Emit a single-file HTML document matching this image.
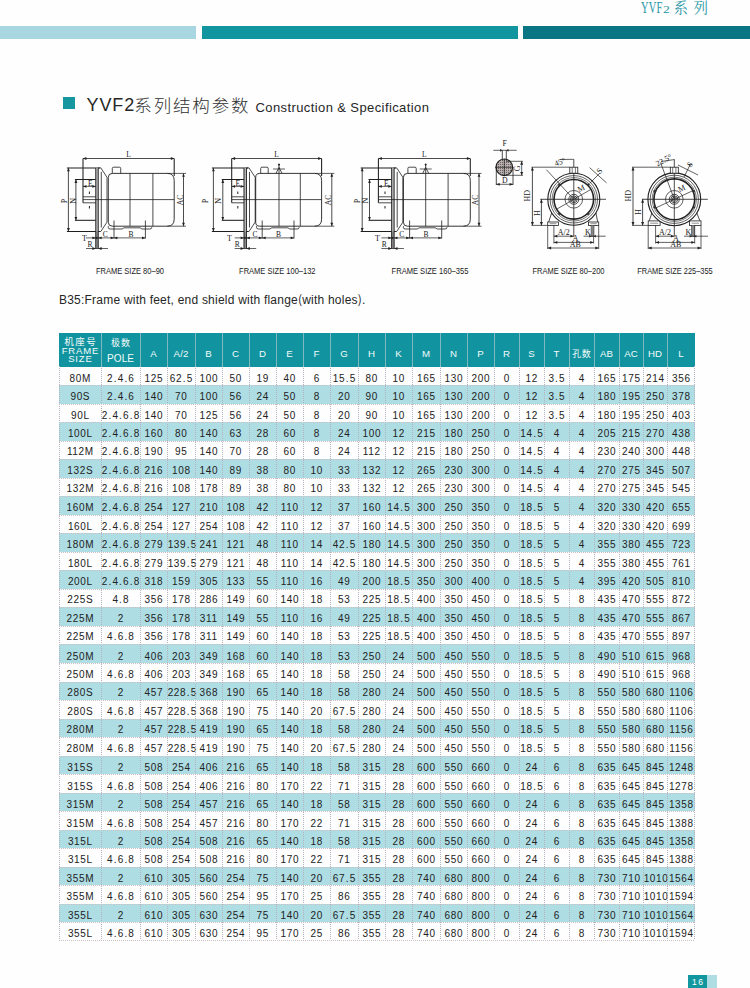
<!DOCTYPE html>
<html><head><meta charset="utf-8"><title>YVF2 Construction &amp; Specification</title>
<style>
*{margin:0;padding:0;box-sizing:border-box}
html,body{width:750px;height:988px;background:#fefefe;overflow:hidden}
body{position:relative;font-family:"Liberation Sans","Noto Sans CJK SC",sans-serif;color:#2b2b2b}
.a{position:absolute}
.bar{position:absolute;top:26px;height:13px}
.tb{position:absolute;left:59px;top:333px;width:636px;height:608px}
.hd{position:absolute;top:0;height:34px;background:#11949f;color:#f4fbfb;font-size:10px;text-align:center}
.rw{position:absolute;left:0;width:636px;background:#fefefe}
.rw.s{background:#aedde4}
.c{position:absolute;top:0;height:100%;padding-top:4px;text-align:center;font-size:10px;letter-spacing:0.65px;text-indent:0.65px;color:#222;white-space:nowrap;display:flex;align-items:center;justify-content:center}
.t i{font-style:normal;margin:0 0.5px}
.t{position:absolute;height:14px;line-height:14px;text-align:center;font-size:10px;letter-spacing:0.65px;text-indent:0.65px;color:#222;white-space:nowrap}
.vl{position:absolute;width:1px;background:repeating-linear-gradient(180deg,#b4b2be 0 1px,rgba(0,0,0,0) 1px 2px)}
.hl{position:absolute;left:0;width:636px;height:1px;background:repeating-linear-gradient(90deg,#ccc0c4 0 1px,rgba(0,0,0,0) 1px 2px)}
.hvl{position:absolute;top:0;width:1px;height:34px;background:#7fb9bf}
</style></head><body>

<div class="bar" style="left:0;width:196px;background:#a9d7e1"></div>
<div class="bar" style="left:202px;width:316px;background:#11959f"></div>
<div class="bar" style="left:523px;width:227px;background:#0b7683"></div>
<div class="a" style="left:641px;top:-1px;height:18px;font-family:'Liberation Serif',serif;color:#2a97a6;font-size:16.5px;line-height:18px;white-space:nowrap;transform:scaleX(0.63);transform-origin:0 0;letter-spacing:0.3px">YVF</div>
<div class="a" style="left:662.8px;top:3.5px;height:12px;font-family:'Liberation Serif',serif;color:#2a97a6;font-size:10.5px;line-height:12px;white-space:nowrap;transform:scaleX(1.3);transform-origin:0 0">2</div>
<div class="a" style="left:673.5px;top:-2px;height:18px;font-family:'Noto Serif CJK SC',serif;color:#2a97a6;font-size:14.5px;line-height:18px;white-space:nowrap;letter-spacing:5.4px">系列</div>
<div class="a" style="left:63px;top:97px;width:12px;height:12px;background:#16979f"></div>
<div class="a" style="left:86.5px;top:94.5px;font-size:18px;line-height:20px;white-space:nowrap;color:#262626;letter-spacing:0.9px">YVF2</div>
<div class="a" style="left:134.3px;top:94.5px;font-size:17.5px;line-height:20px;white-space:nowrap;color:#303030;letter-spacing:1.85px;font-family:'Noto Sans CJK SC',sans-serif;font-weight:300">系列结构参数</div>
<div class="a" style="left:255.5px;top:99.8px;font-size:13px;line-height:16px;white-space:nowrap;color:#262626;letter-spacing:0.4px">Construction &amp; Specification</div>
<div class="a" style="left:59px;top:292px;font-size:12px;line-height:14px;white-space:nowrap;color:#262626;letter-spacing:0.22px">B35:Frame with feet, end shield with flange<span style="font-family:'Noto Sans CJK SC',sans-serif">(</span>with holes<span style="font-family:'Noto Sans CJK SC',sans-serif">)</span>.</div>
<div class="tb">
<div class="hd" style="left:0;width:636px"></div>
<div class="hd" style="left:0px;width:42px;top:2.20px;height:14px;line-height:14px;font-size:9.5px;letter-spacing:1.4px;text-indent:1.4px;background:none;">机座号</div>
<div class="hd" style="left:0px;width:42px;top:10.80px;height:14px;line-height:14px;font-size:9.5px;letter-spacing:0.85px;text-indent:0.85px;background:none;">FRAME</div>
<div class="hd" style="left:0px;width:42px;top:19.20px;height:14px;line-height:14px;font-size:9.5px;letter-spacing:0.85px;text-indent:0.85px;background:none;">SIZE</div>
<div class="hd" style="left:42px;width:39px;top:3.00px;height:14px;line-height:14px;font-size:9px;letter-spacing:0.8px;text-indent:0.8px;background:none;">极数</div>
<div class="hd" style="left:42px;width:39px;top:18.70px;height:14px;line-height:14px;font-size:10px;letter-spacing:0.1px;text-indent:0.1px;background:none;">POLE</div>
<div class="hd" style="left:81px;width:27px;top:14.10px;height:14px;line-height:14px;font-size:9.7px;letter-spacing:0.15px;text-indent:0.15px;background:none;">A</div>
<div class="hd" style="left:108px;width:28px;top:14.10px;height:14px;line-height:14px;font-size:9.7px;letter-spacing:0.15px;text-indent:0.15px;background:none;">A/2</div>
<div class="hd" style="left:136px;width:27px;top:14.10px;height:14px;line-height:14px;font-size:9.7px;letter-spacing:0.15px;text-indent:0.15px;background:none;">B</div>
<div class="hd" style="left:163px;width:27px;top:14.10px;height:14px;line-height:14px;font-size:9.7px;letter-spacing:0.15px;text-indent:0.15px;background:none;">C</div>
<div class="hd" style="left:190px;width:27px;top:14.10px;height:14px;line-height:14px;font-size:9.7px;letter-spacing:0.15px;text-indent:0.15px;background:none;">D</div>
<div class="hd" style="left:217px;width:27px;top:14.10px;height:14px;line-height:14px;font-size:9.7px;letter-spacing:0.15px;text-indent:0.15px;background:none;">E</div>
<div class="hd" style="left:244px;width:27px;top:14.10px;height:14px;line-height:14px;font-size:9.7px;letter-spacing:0.15px;text-indent:0.15px;background:none;">F</div>
<div class="hd" style="left:271px;width:28px;top:14.10px;height:14px;line-height:14px;font-size:9.7px;letter-spacing:0.15px;text-indent:0.15px;background:none;">G</div>
<div class="hd" style="left:299px;width:27px;top:14.10px;height:14px;line-height:14px;font-size:9.7px;letter-spacing:0.15px;text-indent:0.15px;background:none;">H</div>
<div class="hd" style="left:326px;width:27px;top:14.10px;height:14px;line-height:14px;font-size:9.7px;letter-spacing:0.15px;text-indent:0.15px;background:none;">K</div>
<div class="hd" style="left:353px;width:28px;top:14.10px;height:14px;line-height:14px;font-size:9.7px;letter-spacing:0.15px;text-indent:0.15px;background:none;">M</div>
<div class="hd" style="left:381px;width:27px;top:14.10px;height:14px;line-height:14px;font-size:9.7px;letter-spacing:0.15px;text-indent:0.15px;background:none;">N</div>
<div class="hd" style="left:408px;width:27px;top:14.10px;height:14px;line-height:14px;font-size:9.7px;letter-spacing:0.15px;text-indent:0.15px;background:none;">P</div>
<div class="hd" style="left:435px;width:25px;top:14.10px;height:14px;line-height:14px;font-size:9.7px;letter-spacing:0.15px;text-indent:0.15px;background:none;">R</div>
<div class="hd" style="left:460px;width:25px;top:14.10px;height:14px;line-height:14px;font-size:9.7px;letter-spacing:0.15px;text-indent:0.15px;background:none;">S</div>
<div class="hd" style="left:485px;width:25px;top:14.10px;height:14px;line-height:14px;font-size:9.7px;letter-spacing:0.15px;text-indent:0.15px;background:none;">T</div>
<div class="hd" style="left:510px;width:25px;top:13.80px;height:14px;line-height:14px;font-size:9px;letter-spacing:0.7px;text-indent:0.7px;background:none;">孔数</div>
<div class="hd" style="left:535px;width:25px;top:14.10px;height:14px;line-height:14px;font-size:9.7px;letter-spacing:0.15px;text-indent:0.15px;background:none;">AB</div>
<div class="hd" style="left:560px;width:24px;top:14.10px;height:14px;line-height:14px;font-size:9.7px;letter-spacing:0.15px;text-indent:0.15px;background:none;">AC</div>
<div class="hd" style="left:584px;width:24px;top:14.10px;height:14px;line-height:14px;font-size:9.7px;letter-spacing:0.15px;text-indent:0.15px;background:none;">HD</div>
<div class="hd" style="left:608px;width:28px;top:14.10px;height:14px;line-height:14px;font-size:9.7px;letter-spacing:0.15px;text-indent:0.15px;background:none;">L</div>
<div class="hvl" style="left:42px"></div>
<div class="hvl" style="left:81px"></div>
<div class="hvl" style="left:108px"></div>
<div class="hvl" style="left:136px"></div>
<div class="hvl" style="left:163px"></div>
<div class="hvl" style="left:190px"></div>
<div class="hvl" style="left:217px"></div>
<div class="hvl" style="left:244px"></div>
<div class="hvl" style="left:271px"></div>
<div class="hvl" style="left:299px"></div>
<div class="hvl" style="left:326px"></div>
<div class="hvl" style="left:353px"></div>
<div class="hvl" style="left:381px"></div>
<div class="hvl" style="left:408px"></div>
<div class="hvl" style="left:435px"></div>
<div class="hvl" style="left:460px"></div>
<div class="hvl" style="left:485px"></div>
<div class="hvl" style="left:510px"></div>
<div class="hvl" style="left:535px"></div>
<div class="hvl" style="left:560px"></div>
<div class="hvl" style="left:584px"></div>
<div class="hvl" style="left:608px"></div>
<div class="rw" style="top:34px;height:18px">
<div class="t" style="left:0px;width:42px;top:4.60px">80M</div>
<div class="t" style="left:42px;width:39px;top:4.60px">2<i>.</i>4<i>.</i>6</div>
<div class="t" style="left:81px;width:27px;top:4.60px">125</div>
<div class="t" style="left:108px;width:28px;top:4.60px">62<i>.</i>5</div>
<div class="t" style="left:136px;width:27px;top:4.60px">100</div>
<div class="t" style="left:163px;width:27px;top:4.60px">50</div>
<div class="t" style="left:190px;width:27px;top:4.60px">19</div>
<div class="t" style="left:217px;width:27px;top:4.60px">40</div>
<div class="t" style="left:244px;width:27px;top:4.60px">6</div>
<div class="t" style="left:271px;width:28px;top:4.60px">15<i>.</i>5</div>
<div class="t" style="left:299px;width:27px;top:4.60px">80</div>
<div class="t" style="left:326px;width:27px;top:4.60px">10</div>
<div class="t" style="left:353px;width:28px;top:4.60px">165</div>
<div class="t" style="left:381px;width:27px;top:4.60px">130</div>
<div class="t" style="left:408px;width:27px;top:4.60px">200</div>
<div class="t" style="left:435px;width:25px;top:4.60px">0</div>
<div class="t" style="left:460px;width:25px;top:4.60px">12</div>
<div class="t" style="left:485px;width:25px;top:4.60px">3<i>.</i>5</div>
<div class="t" style="left:510px;width:25px;top:4.60px">4</div>
<div class="t" style="left:535px;width:25px;top:4.60px">165</div>
<div class="t" style="left:560px;width:24px;top:4.60px">175</div>
<div class="t" style="left:584px;width:24px;top:4.60px">214</div>
<div class="t" style="left:608px;width:28px;top:4.60px">356</div>
</div>
<div class="rw s" style="top:52px;height:19px">
<div class="t" style="left:0px;width:42px;top:5.30px">90S</div>
<div class="t" style="left:42px;width:39px;top:5.30px">2<i>.</i>4<i>.</i>6</div>
<div class="t" style="left:81px;width:27px;top:5.30px">140</div>
<div class="t" style="left:108px;width:28px;top:5.30px">70</div>
<div class="t" style="left:136px;width:27px;top:5.30px">100</div>
<div class="t" style="left:163px;width:27px;top:5.30px">56</div>
<div class="t" style="left:190px;width:27px;top:5.30px">24</div>
<div class="t" style="left:217px;width:27px;top:5.30px">50</div>
<div class="t" style="left:244px;width:27px;top:5.30px">8</div>
<div class="t" style="left:271px;width:28px;top:5.30px">20</div>
<div class="t" style="left:299px;width:27px;top:5.30px">90</div>
<div class="t" style="left:326px;width:27px;top:5.30px">10</div>
<div class="t" style="left:353px;width:28px;top:5.30px">165</div>
<div class="t" style="left:381px;width:27px;top:5.30px">130</div>
<div class="t" style="left:408px;width:27px;top:5.30px">200</div>
<div class="t" style="left:435px;width:25px;top:5.30px">0</div>
<div class="t" style="left:460px;width:25px;top:5.30px">12</div>
<div class="t" style="left:485px;width:25px;top:5.30px">3<i>.</i>5</div>
<div class="t" style="left:510px;width:25px;top:5.30px">4</div>
<div class="t" style="left:535px;width:25px;top:5.30px">180</div>
<div class="t" style="left:560px;width:24px;top:5.30px">195</div>
<div class="t" style="left:584px;width:24px;top:5.30px">250</div>
<div class="t" style="left:608px;width:28px;top:5.30px">378</div>
</div>
<div class="rw" style="top:71px;height:18px">
<div class="t" style="left:0px;width:42px;top:5.00px">90L</div>
<div class="t" style="left:42px;width:39px;top:5.00px">2<i>.</i>4<i>.</i>6<i>.</i>8</div>
<div class="t" style="left:81px;width:27px;top:5.00px">140</div>
<div class="t" style="left:108px;width:28px;top:5.00px">70</div>
<div class="t" style="left:136px;width:27px;top:5.00px">125</div>
<div class="t" style="left:163px;width:27px;top:5.00px">56</div>
<div class="t" style="left:190px;width:27px;top:5.00px">24</div>
<div class="t" style="left:217px;width:27px;top:5.00px">50</div>
<div class="t" style="left:244px;width:27px;top:5.00px">8</div>
<div class="t" style="left:271px;width:28px;top:5.00px">20</div>
<div class="t" style="left:299px;width:27px;top:5.00px">90</div>
<div class="t" style="left:326px;width:27px;top:5.00px">10</div>
<div class="t" style="left:353px;width:28px;top:5.00px">165</div>
<div class="t" style="left:381px;width:27px;top:5.00px">130</div>
<div class="t" style="left:408px;width:27px;top:5.00px">200</div>
<div class="t" style="left:435px;width:25px;top:5.00px">0</div>
<div class="t" style="left:460px;width:25px;top:5.00px">12</div>
<div class="t" style="left:485px;width:25px;top:5.00px">3<i>.</i>5</div>
<div class="t" style="left:510px;width:25px;top:5.00px">4</div>
<div class="t" style="left:535px;width:25px;top:5.00px">180</div>
<div class="t" style="left:560px;width:24px;top:5.00px">195</div>
<div class="t" style="left:584px;width:24px;top:5.00px">250</div>
<div class="t" style="left:608px;width:28px;top:5.00px">403</div>
</div>
<div class="rw s" style="top:89px;height:19px">
<div class="t" style="left:0px;width:42px;top:5.30px">100L</div>
<div class="t" style="left:42px;width:39px;top:5.30px">2<i>.</i>4<i>.</i>6<i>.</i>8</div>
<div class="t" style="left:81px;width:27px;top:5.30px">160</div>
<div class="t" style="left:108px;width:28px;top:5.30px">80</div>
<div class="t" style="left:136px;width:27px;top:5.30px">140</div>
<div class="t" style="left:163px;width:27px;top:5.30px">63</div>
<div class="t" style="left:190px;width:27px;top:5.30px">28</div>
<div class="t" style="left:217px;width:27px;top:5.30px">60</div>
<div class="t" style="left:244px;width:27px;top:5.30px">8</div>
<div class="t" style="left:271px;width:28px;top:5.30px">24</div>
<div class="t" style="left:299px;width:27px;top:5.30px">100</div>
<div class="t" style="left:326px;width:27px;top:5.30px">12</div>
<div class="t" style="left:353px;width:28px;top:5.30px">215</div>
<div class="t" style="left:381px;width:27px;top:5.30px">180</div>
<div class="t" style="left:408px;width:27px;top:5.30px">250</div>
<div class="t" style="left:435px;width:25px;top:5.30px">0</div>
<div class="t" style="left:460px;width:25px;top:5.30px">14<i>.</i>5</div>
<div class="t" style="left:485px;width:25px;top:5.30px">4</div>
<div class="t" style="left:510px;width:25px;top:5.30px">4</div>
<div class="t" style="left:535px;width:25px;top:5.30px">205</div>
<div class="t" style="left:560px;width:24px;top:5.30px">215</div>
<div class="t" style="left:584px;width:24px;top:5.30px">270</div>
<div class="t" style="left:608px;width:28px;top:5.30px">438</div>
</div>
<div class="rw" style="top:108px;height:18px">
<div class="t" style="left:0px;width:42px;top:4.00px">112M</div>
<div class="t" style="left:42px;width:39px;top:4.00px">2<i>.</i>4<i>.</i>6<i>.</i>8</div>
<div class="t" style="left:81px;width:27px;top:4.00px">190</div>
<div class="t" style="left:108px;width:28px;top:4.00px">95</div>
<div class="t" style="left:136px;width:27px;top:4.00px">140</div>
<div class="t" style="left:163px;width:27px;top:4.00px">70</div>
<div class="t" style="left:190px;width:27px;top:4.00px">28</div>
<div class="t" style="left:217px;width:27px;top:4.00px">60</div>
<div class="t" style="left:244px;width:27px;top:4.00px">8</div>
<div class="t" style="left:271px;width:28px;top:4.00px">24</div>
<div class="t" style="left:299px;width:27px;top:4.00px">112</div>
<div class="t" style="left:326px;width:27px;top:4.00px">12</div>
<div class="t" style="left:353px;width:28px;top:4.00px">215</div>
<div class="t" style="left:381px;width:27px;top:4.00px">180</div>
<div class="t" style="left:408px;width:27px;top:4.00px">250</div>
<div class="t" style="left:435px;width:25px;top:4.00px">0</div>
<div class="t" style="left:460px;width:25px;top:4.00px">14<i>.</i>5</div>
<div class="t" style="left:485px;width:25px;top:4.00px">4</div>
<div class="t" style="left:510px;width:25px;top:4.00px">4</div>
<div class="t" style="left:535px;width:25px;top:4.00px">230</div>
<div class="t" style="left:560px;width:24px;top:4.00px">240</div>
<div class="t" style="left:584px;width:24px;top:4.00px">300</div>
<div class="t" style="left:608px;width:28px;top:4.00px">448</div>
</div>
<div class="rw s" style="top:126px;height:19px">
<div class="t" style="left:0px;width:42px;top:4.60px">132S</div>
<div class="t" style="left:42px;width:39px;top:4.60px">2<i>.</i>4<i>.</i>6<i>.</i>8</div>
<div class="t" style="left:81px;width:27px;top:4.60px">216</div>
<div class="t" style="left:108px;width:28px;top:4.60px">108</div>
<div class="t" style="left:136px;width:27px;top:4.60px">140</div>
<div class="t" style="left:163px;width:27px;top:4.60px">89</div>
<div class="t" style="left:190px;width:27px;top:4.60px">38</div>
<div class="t" style="left:217px;width:27px;top:4.60px">80</div>
<div class="t" style="left:244px;width:27px;top:4.60px">10</div>
<div class="t" style="left:271px;width:28px;top:4.60px">33</div>
<div class="t" style="left:299px;width:27px;top:4.60px">132</div>
<div class="t" style="left:326px;width:27px;top:4.60px">12</div>
<div class="t" style="left:353px;width:28px;top:4.60px">265</div>
<div class="t" style="left:381px;width:27px;top:4.60px">230</div>
<div class="t" style="left:408px;width:27px;top:4.60px">300</div>
<div class="t" style="left:435px;width:25px;top:4.60px">0</div>
<div class="t" style="left:460px;width:25px;top:4.60px">14<i>.</i>5</div>
<div class="t" style="left:485px;width:25px;top:4.60px">4</div>
<div class="t" style="left:510px;width:25px;top:4.60px">4</div>
<div class="t" style="left:535px;width:25px;top:4.60px">270</div>
<div class="t" style="left:560px;width:24px;top:4.60px">275</div>
<div class="t" style="left:584px;width:24px;top:4.60px">345</div>
<div class="t" style="left:608px;width:28px;top:4.60px">507</div>
</div>
<div class="rw" style="top:145px;height:18px">
<div class="t" style="left:0px;width:42px;top:4.30px">132M</div>
<div class="t" style="left:42px;width:39px;top:4.30px">2<i>.</i>4<i>.</i>6<i>.</i>8</div>
<div class="t" style="left:81px;width:27px;top:4.30px">216</div>
<div class="t" style="left:108px;width:28px;top:4.30px">108</div>
<div class="t" style="left:136px;width:27px;top:4.30px">178</div>
<div class="t" style="left:163px;width:27px;top:4.30px">89</div>
<div class="t" style="left:190px;width:27px;top:4.30px">38</div>
<div class="t" style="left:217px;width:27px;top:4.30px">80</div>
<div class="t" style="left:244px;width:27px;top:4.30px">10</div>
<div class="t" style="left:271px;width:28px;top:4.30px">33</div>
<div class="t" style="left:299px;width:27px;top:4.30px">132</div>
<div class="t" style="left:326px;width:27px;top:4.30px">12</div>
<div class="t" style="left:353px;width:28px;top:4.30px">265</div>
<div class="t" style="left:381px;width:27px;top:4.30px">230</div>
<div class="t" style="left:408px;width:27px;top:4.30px">300</div>
<div class="t" style="left:435px;width:25px;top:4.30px">0</div>
<div class="t" style="left:460px;width:25px;top:4.30px">14<i>.</i>5</div>
<div class="t" style="left:485px;width:25px;top:4.30px">4</div>
<div class="t" style="left:510px;width:25px;top:4.30px">4</div>
<div class="t" style="left:535px;width:25px;top:4.30px">270</div>
<div class="t" style="left:560px;width:24px;top:4.30px">275</div>
<div class="t" style="left:584px;width:24px;top:4.30px">345</div>
<div class="t" style="left:608px;width:28px;top:4.30px">545</div>
</div>
<div class="rw s" style="top:163px;height:19px">
<div class="t" style="left:0px;width:42px;top:5.00px">160M</div>
<div class="t" style="left:42px;width:39px;top:5.00px">2<i>.</i>4<i>.</i>6<i>.</i>8</div>
<div class="t" style="left:81px;width:27px;top:5.00px">254</div>
<div class="t" style="left:108px;width:28px;top:5.00px">127</div>
<div class="t" style="left:136px;width:27px;top:5.00px">210</div>
<div class="t" style="left:163px;width:27px;top:5.00px">108</div>
<div class="t" style="left:190px;width:27px;top:5.00px">42</div>
<div class="t" style="left:217px;width:27px;top:5.00px">110</div>
<div class="t" style="left:244px;width:27px;top:5.00px">12</div>
<div class="t" style="left:271px;width:28px;top:5.00px">37</div>
<div class="t" style="left:299px;width:27px;top:5.00px">160</div>
<div class="t" style="left:326px;width:27px;top:5.00px">14<i>.</i>5</div>
<div class="t" style="left:353px;width:28px;top:5.00px">300</div>
<div class="t" style="left:381px;width:27px;top:5.00px">250</div>
<div class="t" style="left:408px;width:27px;top:5.00px">350</div>
<div class="t" style="left:435px;width:25px;top:5.00px">0</div>
<div class="t" style="left:460px;width:25px;top:5.00px">18<i>.</i>5</div>
<div class="t" style="left:485px;width:25px;top:5.00px">5</div>
<div class="t" style="left:510px;width:25px;top:5.00px">4</div>
<div class="t" style="left:535px;width:25px;top:5.00px">320</div>
<div class="t" style="left:560px;width:24px;top:5.00px">330</div>
<div class="t" style="left:584px;width:24px;top:5.00px">420</div>
<div class="t" style="left:608px;width:28px;top:5.00px">655</div>
</div>
<div class="rw" style="top:182px;height:18px">
<div class="t" style="left:0px;width:42px;top:4.70px">160L</div>
<div class="t" style="left:42px;width:39px;top:4.70px">2<i>.</i>4<i>.</i>6<i>.</i>8</div>
<div class="t" style="left:81px;width:27px;top:4.70px">254</div>
<div class="t" style="left:108px;width:28px;top:4.70px">127</div>
<div class="t" style="left:136px;width:27px;top:4.70px">254</div>
<div class="t" style="left:163px;width:27px;top:4.70px">108</div>
<div class="t" style="left:190px;width:27px;top:4.70px">42</div>
<div class="t" style="left:217px;width:27px;top:4.70px">110</div>
<div class="t" style="left:244px;width:27px;top:4.70px">12</div>
<div class="t" style="left:271px;width:28px;top:4.70px">37</div>
<div class="t" style="left:299px;width:27px;top:4.70px">160</div>
<div class="t" style="left:326px;width:27px;top:4.70px">14<i>.</i>5</div>
<div class="t" style="left:353px;width:28px;top:4.70px">300</div>
<div class="t" style="left:381px;width:27px;top:4.70px">250</div>
<div class="t" style="left:408px;width:27px;top:4.70px">350</div>
<div class="t" style="left:435px;width:25px;top:4.70px">0</div>
<div class="t" style="left:460px;width:25px;top:4.70px">18<i>.</i>5</div>
<div class="t" style="left:485px;width:25px;top:4.70px">5</div>
<div class="t" style="left:510px;width:25px;top:4.70px">4</div>
<div class="t" style="left:535px;width:25px;top:4.70px">320</div>
<div class="t" style="left:560px;width:24px;top:4.70px">330</div>
<div class="t" style="left:584px;width:24px;top:4.70px">420</div>
<div class="t" style="left:608px;width:28px;top:4.70px">699</div>
</div>
<div class="rw s" style="top:200px;height:19px">
<div class="t" style="left:0px;width:42px;top:5.00px">180M</div>
<div class="t" style="left:42px;width:39px;top:5.00px">2<i>.</i>4<i>.</i>6<i>.</i>8</div>
<div class="t" style="left:81px;width:27px;top:5.00px">279</div>
<div class="t" style="left:108px;width:28px;top:5.00px">139<i>.</i>5</div>
<div class="t" style="left:136px;width:27px;top:5.00px">241</div>
<div class="t" style="left:163px;width:27px;top:5.00px">121</div>
<div class="t" style="left:190px;width:27px;top:5.00px">48</div>
<div class="t" style="left:217px;width:27px;top:5.00px">110</div>
<div class="t" style="left:244px;width:27px;top:5.00px">14</div>
<div class="t" style="left:271px;width:28px;top:5.00px">42<i>.</i>5</div>
<div class="t" style="left:299px;width:27px;top:5.00px">180</div>
<div class="t" style="left:326px;width:27px;top:5.00px">14<i>.</i>5</div>
<div class="t" style="left:353px;width:28px;top:5.00px">300</div>
<div class="t" style="left:381px;width:27px;top:5.00px">250</div>
<div class="t" style="left:408px;width:27px;top:5.00px">350</div>
<div class="t" style="left:435px;width:25px;top:5.00px">0</div>
<div class="t" style="left:460px;width:25px;top:5.00px">18<i>.</i>5</div>
<div class="t" style="left:485px;width:25px;top:5.00px">5</div>
<div class="t" style="left:510px;width:25px;top:5.00px">4</div>
<div class="t" style="left:535px;width:25px;top:5.00px">355</div>
<div class="t" style="left:560px;width:24px;top:5.00px">380</div>
<div class="t" style="left:584px;width:24px;top:5.00px">455</div>
<div class="t" style="left:608px;width:28px;top:5.00px">723</div>
</div>
<div class="rw" style="top:219px;height:18px">
<div class="t" style="left:0px;width:42px;top:4.60px">180L</div>
<div class="t" style="left:42px;width:39px;top:4.60px">2<i>.</i>4<i>.</i>6<i>.</i>8</div>
<div class="t" style="left:81px;width:27px;top:4.60px">279</div>
<div class="t" style="left:108px;width:28px;top:4.60px">139<i>.</i>5</div>
<div class="t" style="left:136px;width:27px;top:4.60px">279</div>
<div class="t" style="left:163px;width:27px;top:4.60px">121</div>
<div class="t" style="left:190px;width:27px;top:4.60px">48</div>
<div class="t" style="left:217px;width:27px;top:4.60px">110</div>
<div class="t" style="left:244px;width:27px;top:4.60px">14</div>
<div class="t" style="left:271px;width:28px;top:4.60px">42<i>.</i>5</div>
<div class="t" style="left:299px;width:27px;top:4.60px">180</div>
<div class="t" style="left:326px;width:27px;top:4.60px">14<i>.</i>5</div>
<div class="t" style="left:353px;width:28px;top:4.60px">300</div>
<div class="t" style="left:381px;width:27px;top:4.60px">250</div>
<div class="t" style="left:408px;width:27px;top:4.60px">350</div>
<div class="t" style="left:435px;width:25px;top:4.60px">0</div>
<div class="t" style="left:460px;width:25px;top:4.60px">18<i>.</i>5</div>
<div class="t" style="left:485px;width:25px;top:4.60px">5</div>
<div class="t" style="left:510px;width:25px;top:4.60px">4</div>
<div class="t" style="left:535px;width:25px;top:4.60px">355</div>
<div class="t" style="left:560px;width:24px;top:4.60px">380</div>
<div class="t" style="left:584px;width:24px;top:4.60px">455</div>
<div class="t" style="left:608px;width:28px;top:4.60px">761</div>
</div>
<div class="rw s" style="top:237px;height:19px">
<div class="t" style="left:0px;width:42px;top:4.80px">200L</div>
<div class="t" style="left:42px;width:39px;top:4.80px">2<i>.</i>4<i>.</i>6<i>.</i>8</div>
<div class="t" style="left:81px;width:27px;top:4.80px">318</div>
<div class="t" style="left:108px;width:28px;top:4.80px">159</div>
<div class="t" style="left:136px;width:27px;top:4.80px">305</div>
<div class="t" style="left:163px;width:27px;top:4.80px">133</div>
<div class="t" style="left:190px;width:27px;top:4.80px">55</div>
<div class="t" style="left:217px;width:27px;top:4.80px">110</div>
<div class="t" style="left:244px;width:27px;top:4.80px">16</div>
<div class="t" style="left:271px;width:28px;top:4.80px">49</div>
<div class="t" style="left:299px;width:27px;top:4.80px">200</div>
<div class="t" style="left:326px;width:27px;top:4.80px">18<i>.</i>5</div>
<div class="t" style="left:353px;width:28px;top:4.80px">350</div>
<div class="t" style="left:381px;width:27px;top:4.80px">300</div>
<div class="t" style="left:408px;width:27px;top:4.80px">400</div>
<div class="t" style="left:435px;width:25px;top:4.80px">0</div>
<div class="t" style="left:460px;width:25px;top:4.80px">18<i>.</i>5</div>
<div class="t" style="left:485px;width:25px;top:4.80px">5</div>
<div class="t" style="left:510px;width:25px;top:4.80px">4</div>
<div class="t" style="left:535px;width:25px;top:4.80px">395</div>
<div class="t" style="left:560px;width:24px;top:4.80px">420</div>
<div class="t" style="left:584px;width:24px;top:4.80px">505</div>
<div class="t" style="left:608px;width:28px;top:4.80px">810</div>
</div>
<div class="rw" style="top:256px;height:18px">
<div class="t" style="left:0px;width:42px;top:4.30px">225S</div>
<div class="t" style="left:42px;width:39px;top:4.30px">4<i>.</i>8</div>
<div class="t" style="left:81px;width:27px;top:4.30px">356</div>
<div class="t" style="left:108px;width:28px;top:4.30px">178</div>
<div class="t" style="left:136px;width:27px;top:4.30px">286</div>
<div class="t" style="left:163px;width:27px;top:4.30px">149</div>
<div class="t" style="left:190px;width:27px;top:4.30px">60</div>
<div class="t" style="left:217px;width:27px;top:4.30px">140</div>
<div class="t" style="left:244px;width:27px;top:4.30px">18</div>
<div class="t" style="left:271px;width:28px;top:4.30px">53</div>
<div class="t" style="left:299px;width:27px;top:4.30px">225</div>
<div class="t" style="left:326px;width:27px;top:4.30px">18<i>.</i>5</div>
<div class="t" style="left:353px;width:28px;top:4.30px">400</div>
<div class="t" style="left:381px;width:27px;top:4.30px">350</div>
<div class="t" style="left:408px;width:27px;top:4.30px">450</div>
<div class="t" style="left:435px;width:25px;top:4.30px">0</div>
<div class="t" style="left:460px;width:25px;top:4.30px">18<i>.</i>5</div>
<div class="t" style="left:485px;width:25px;top:4.30px">5</div>
<div class="t" style="left:510px;width:25px;top:4.30px">8</div>
<div class="t" style="left:535px;width:25px;top:4.30px">435</div>
<div class="t" style="left:560px;width:24px;top:4.30px">470</div>
<div class="t" style="left:584px;width:24px;top:4.30px">555</div>
<div class="t" style="left:608px;width:28px;top:4.30px">872</div>
</div>
<div class="rw s" style="top:274px;height:19px">
<div class="t" style="left:0px;width:42px;top:4.80px">225M</div>
<div class="t" style="left:42px;width:39px;top:4.80px">2</div>
<div class="t" style="left:81px;width:27px;top:4.80px">356</div>
<div class="t" style="left:108px;width:28px;top:4.80px">178</div>
<div class="t" style="left:136px;width:27px;top:4.80px">311</div>
<div class="t" style="left:163px;width:27px;top:4.80px">149</div>
<div class="t" style="left:190px;width:27px;top:4.80px">55</div>
<div class="t" style="left:217px;width:27px;top:4.80px">110</div>
<div class="t" style="left:244px;width:27px;top:4.80px">16</div>
<div class="t" style="left:271px;width:28px;top:4.80px">49</div>
<div class="t" style="left:299px;width:27px;top:4.80px">225</div>
<div class="t" style="left:326px;width:27px;top:4.80px">18<i>.</i>5</div>
<div class="t" style="left:353px;width:28px;top:4.80px">400</div>
<div class="t" style="left:381px;width:27px;top:4.80px">350</div>
<div class="t" style="left:408px;width:27px;top:4.80px">450</div>
<div class="t" style="left:435px;width:25px;top:4.80px">0</div>
<div class="t" style="left:460px;width:25px;top:4.80px">18<i>.</i>5</div>
<div class="t" style="left:485px;width:25px;top:4.80px">5</div>
<div class="t" style="left:510px;width:25px;top:4.80px">8</div>
<div class="t" style="left:535px;width:25px;top:4.80px">435</div>
<div class="t" style="left:560px;width:24px;top:4.80px">470</div>
<div class="t" style="left:584px;width:24px;top:4.80px">555</div>
<div class="t" style="left:608px;width:28px;top:4.80px">867</div>
</div>
<div class="rw" style="top:293px;height:18px">
<div class="t" style="left:0px;width:42px;top:3.50px">225M</div>
<div class="t" style="left:42px;width:39px;top:3.50px">4<i>.</i>6<i>.</i>8</div>
<div class="t" style="left:81px;width:27px;top:3.50px">356</div>
<div class="t" style="left:108px;width:28px;top:3.50px">178</div>
<div class="t" style="left:136px;width:27px;top:3.50px">311</div>
<div class="t" style="left:163px;width:27px;top:3.50px">149</div>
<div class="t" style="left:190px;width:27px;top:3.50px">60</div>
<div class="t" style="left:217px;width:27px;top:3.50px">140</div>
<div class="t" style="left:244px;width:27px;top:3.50px">18</div>
<div class="t" style="left:271px;width:28px;top:3.50px">53</div>
<div class="t" style="left:299px;width:27px;top:3.50px">225</div>
<div class="t" style="left:326px;width:27px;top:3.50px">18<i>.</i>5</div>
<div class="t" style="left:353px;width:28px;top:3.50px">400</div>
<div class="t" style="left:381px;width:27px;top:3.50px">350</div>
<div class="t" style="left:408px;width:27px;top:3.50px">450</div>
<div class="t" style="left:435px;width:25px;top:3.50px">0</div>
<div class="t" style="left:460px;width:25px;top:3.50px">18<i>.</i>5</div>
<div class="t" style="left:485px;width:25px;top:3.50px">5</div>
<div class="t" style="left:510px;width:25px;top:3.50px">8</div>
<div class="t" style="left:535px;width:25px;top:3.50px">435</div>
<div class="t" style="left:560px;width:24px;top:3.50px">470</div>
<div class="t" style="left:584px;width:24px;top:3.50px">555</div>
<div class="t" style="left:608px;width:28px;top:3.50px">897</div>
</div>
<div class="rw s" style="top:311px;height:19px">
<div class="t" style="left:0px;width:42px;top:6.10px">250M</div>
<div class="t" style="left:42px;width:39px;top:6.10px">2</div>
<div class="t" style="left:81px;width:27px;top:6.10px">406</div>
<div class="t" style="left:108px;width:28px;top:6.10px">203</div>
<div class="t" style="left:136px;width:27px;top:6.10px">349</div>
<div class="t" style="left:163px;width:27px;top:6.10px">168</div>
<div class="t" style="left:190px;width:27px;top:6.10px">60</div>
<div class="t" style="left:217px;width:27px;top:6.10px">140</div>
<div class="t" style="left:244px;width:27px;top:6.10px">18</div>
<div class="t" style="left:271px;width:28px;top:6.10px">53</div>
<div class="t" style="left:299px;width:27px;top:6.10px">250</div>
<div class="t" style="left:326px;width:27px;top:6.10px">24</div>
<div class="t" style="left:353px;width:28px;top:6.10px">500</div>
<div class="t" style="left:381px;width:27px;top:6.10px">450</div>
<div class="t" style="left:408px;width:27px;top:6.10px">550</div>
<div class="t" style="left:435px;width:25px;top:6.10px">0</div>
<div class="t" style="left:460px;width:25px;top:6.10px">18<i>.</i>5</div>
<div class="t" style="left:485px;width:25px;top:6.10px">5</div>
<div class="t" style="left:510px;width:25px;top:6.10px">8</div>
<div class="t" style="left:535px;width:25px;top:6.10px">490</div>
<div class="t" style="left:560px;width:24px;top:6.10px">510</div>
<div class="t" style="left:584px;width:24px;top:6.10px">615</div>
<div class="t" style="left:608px;width:28px;top:6.10px">968</div>
</div>
<div class="rw" style="top:330px;height:19px">
<div class="t" style="left:0px;width:42px;top:4.90px">250M</div>
<div class="t" style="left:42px;width:39px;top:4.90px">4<i>.</i>6<i>.</i>8</div>
<div class="t" style="left:81px;width:27px;top:4.90px">406</div>
<div class="t" style="left:108px;width:28px;top:4.90px">203</div>
<div class="t" style="left:136px;width:27px;top:4.90px">349</div>
<div class="t" style="left:163px;width:27px;top:4.90px">168</div>
<div class="t" style="left:190px;width:27px;top:4.90px">65</div>
<div class="t" style="left:217px;width:27px;top:4.90px">140</div>
<div class="t" style="left:244px;width:27px;top:4.90px">18</div>
<div class="t" style="left:271px;width:28px;top:4.90px">58</div>
<div class="t" style="left:299px;width:27px;top:4.90px">250</div>
<div class="t" style="left:326px;width:27px;top:4.90px">24</div>
<div class="t" style="left:353px;width:28px;top:4.90px">500</div>
<div class="t" style="left:381px;width:27px;top:4.90px">450</div>
<div class="t" style="left:408px;width:27px;top:4.90px">550</div>
<div class="t" style="left:435px;width:25px;top:4.90px">0</div>
<div class="t" style="left:460px;width:25px;top:4.90px">18<i>.</i>5</div>
<div class="t" style="left:485px;width:25px;top:4.90px">5</div>
<div class="t" style="left:510px;width:25px;top:4.90px">8</div>
<div class="t" style="left:535px;width:25px;top:4.90px">490</div>
<div class="t" style="left:560px;width:24px;top:4.90px">510</div>
<div class="t" style="left:584px;width:24px;top:4.90px">615</div>
<div class="t" style="left:608px;width:28px;top:4.90px">968</div>
</div>
<div class="rw s" style="top:349px;height:18px">
<div class="t" style="left:0px;width:42px;top:4.10px">280S</div>
<div class="t" style="left:42px;width:39px;top:4.10px">2</div>
<div class="t" style="left:81px;width:27px;top:4.10px">457</div>
<div class="t" style="left:108px;width:28px;top:4.10px">228<i>.</i>5</div>
<div class="t" style="left:136px;width:27px;top:4.10px">368</div>
<div class="t" style="left:163px;width:27px;top:4.10px">190</div>
<div class="t" style="left:190px;width:27px;top:4.10px">65</div>
<div class="t" style="left:217px;width:27px;top:4.10px">140</div>
<div class="t" style="left:244px;width:27px;top:4.10px">18</div>
<div class="t" style="left:271px;width:28px;top:4.10px">58</div>
<div class="t" style="left:299px;width:27px;top:4.10px">280</div>
<div class="t" style="left:326px;width:27px;top:4.10px">24</div>
<div class="t" style="left:353px;width:28px;top:4.10px">500</div>
<div class="t" style="left:381px;width:27px;top:4.10px">450</div>
<div class="t" style="left:408px;width:27px;top:4.10px">550</div>
<div class="t" style="left:435px;width:25px;top:4.10px">0</div>
<div class="t" style="left:460px;width:25px;top:4.10px">18<i>.</i>5</div>
<div class="t" style="left:485px;width:25px;top:4.10px">5</div>
<div class="t" style="left:510px;width:25px;top:4.10px">8</div>
<div class="t" style="left:535px;width:25px;top:4.10px">550</div>
<div class="t" style="left:560px;width:24px;top:4.10px">580</div>
<div class="t" style="left:584px;width:24px;top:4.10px">680</div>
<div class="t" style="left:608px;width:28px;top:4.10px">1106</div>
</div>
<div class="rw" style="top:367px;height:19px">
<div class="t" style="left:0px;width:42px;top:4.80px">280S</div>
<div class="t" style="left:42px;width:39px;top:4.80px">4<i>.</i>6<i>.</i>8</div>
<div class="t" style="left:81px;width:27px;top:4.80px">457</div>
<div class="t" style="left:108px;width:28px;top:4.80px">228<i>.</i>5</div>
<div class="t" style="left:136px;width:27px;top:4.80px">368</div>
<div class="t" style="left:163px;width:27px;top:4.80px">190</div>
<div class="t" style="left:190px;width:27px;top:4.80px">75</div>
<div class="t" style="left:217px;width:27px;top:4.80px">140</div>
<div class="t" style="left:244px;width:27px;top:4.80px">20</div>
<div class="t" style="left:271px;width:28px;top:4.80px">67<i>.</i>5</div>
<div class="t" style="left:299px;width:27px;top:4.80px">280</div>
<div class="t" style="left:326px;width:27px;top:4.80px">24</div>
<div class="t" style="left:353px;width:28px;top:4.80px">500</div>
<div class="t" style="left:381px;width:27px;top:4.80px">450</div>
<div class="t" style="left:408px;width:27px;top:4.80px">550</div>
<div class="t" style="left:435px;width:25px;top:4.80px">0</div>
<div class="t" style="left:460px;width:25px;top:4.80px">18<i>.</i>5</div>
<div class="t" style="left:485px;width:25px;top:4.80px">5</div>
<div class="t" style="left:510px;width:25px;top:4.80px">8</div>
<div class="t" style="left:535px;width:25px;top:4.80px">550</div>
<div class="t" style="left:560px;width:24px;top:4.80px">580</div>
<div class="t" style="left:584px;width:24px;top:4.80px">680</div>
<div class="t" style="left:608px;width:28px;top:4.80px">1106</div>
</div>
<div class="rw s" style="top:386px;height:18px">
<div class="t" style="left:0px;width:42px;top:4.00px">280M</div>
<div class="t" style="left:42px;width:39px;top:4.00px">2</div>
<div class="t" style="left:81px;width:27px;top:4.00px">457</div>
<div class="t" style="left:108px;width:28px;top:4.00px">228<i>.</i>5</div>
<div class="t" style="left:136px;width:27px;top:4.00px">419</div>
<div class="t" style="left:163px;width:27px;top:4.00px">190</div>
<div class="t" style="left:190px;width:27px;top:4.00px">65</div>
<div class="t" style="left:217px;width:27px;top:4.00px">140</div>
<div class="t" style="left:244px;width:27px;top:4.00px">18</div>
<div class="t" style="left:271px;width:28px;top:4.00px">58</div>
<div class="t" style="left:299px;width:27px;top:4.00px">280</div>
<div class="t" style="left:326px;width:27px;top:4.00px">24</div>
<div class="t" style="left:353px;width:28px;top:4.00px">500</div>
<div class="t" style="left:381px;width:27px;top:4.00px">450</div>
<div class="t" style="left:408px;width:27px;top:4.00px">550</div>
<div class="t" style="left:435px;width:25px;top:4.00px">0</div>
<div class="t" style="left:460px;width:25px;top:4.00px">18<i>.</i>5</div>
<div class="t" style="left:485px;width:25px;top:4.00px">5</div>
<div class="t" style="left:510px;width:25px;top:4.00px">8</div>
<div class="t" style="left:535px;width:25px;top:4.00px">550</div>
<div class="t" style="left:560px;width:24px;top:4.00px">580</div>
<div class="t" style="left:584px;width:24px;top:4.00px">680</div>
<div class="t" style="left:608px;width:28px;top:4.00px">1156</div>
</div>
<div class="rw" style="top:404px;height:19px">
<div class="t" style="left:0px;width:42px;top:5.20px">280M</div>
<div class="t" style="left:42px;width:39px;top:5.20px">4<i>.</i>6<i>.</i>8</div>
<div class="t" style="left:81px;width:27px;top:5.20px">457</div>
<div class="t" style="left:108px;width:28px;top:5.20px">228<i>.</i>5</div>
<div class="t" style="left:136px;width:27px;top:5.20px">419</div>
<div class="t" style="left:163px;width:27px;top:5.20px">190</div>
<div class="t" style="left:190px;width:27px;top:5.20px">75</div>
<div class="t" style="left:217px;width:27px;top:5.20px">140</div>
<div class="t" style="left:244px;width:27px;top:5.20px">20</div>
<div class="t" style="left:271px;width:28px;top:5.20px">67<i>.</i>5</div>
<div class="t" style="left:299px;width:27px;top:5.20px">280</div>
<div class="t" style="left:326px;width:27px;top:5.20px">24</div>
<div class="t" style="left:353px;width:28px;top:5.20px">500</div>
<div class="t" style="left:381px;width:27px;top:5.20px">450</div>
<div class="t" style="left:408px;width:27px;top:5.20px">550</div>
<div class="t" style="left:435px;width:25px;top:5.20px">0</div>
<div class="t" style="left:460px;width:25px;top:5.20px">18<i>.</i>5</div>
<div class="t" style="left:485px;width:25px;top:5.20px">5</div>
<div class="t" style="left:510px;width:25px;top:5.20px">8</div>
<div class="t" style="left:535px;width:25px;top:5.20px">550</div>
<div class="t" style="left:560px;width:24px;top:5.20px">580</div>
<div class="t" style="left:584px;width:24px;top:5.20px">680</div>
<div class="t" style="left:608px;width:28px;top:5.20px">1156</div>
</div>
<div class="rw s" style="top:423px;height:18px">
<div class="t" style="left:0px;width:42px;top:4.90px">315S</div>
<div class="t" style="left:42px;width:39px;top:4.90px">2</div>
<div class="t" style="left:81px;width:27px;top:4.90px">508</div>
<div class="t" style="left:108px;width:28px;top:4.90px">254</div>
<div class="t" style="left:136px;width:27px;top:4.90px">406</div>
<div class="t" style="left:163px;width:27px;top:4.90px">216</div>
<div class="t" style="left:190px;width:27px;top:4.90px">65</div>
<div class="t" style="left:217px;width:27px;top:4.90px">140</div>
<div class="t" style="left:244px;width:27px;top:4.90px">18</div>
<div class="t" style="left:271px;width:28px;top:4.90px">58</div>
<div class="t" style="left:299px;width:27px;top:4.90px">315</div>
<div class="t" style="left:326px;width:27px;top:4.90px">28</div>
<div class="t" style="left:353px;width:28px;top:4.90px">600</div>
<div class="t" style="left:381px;width:27px;top:4.90px">550</div>
<div class="t" style="left:408px;width:27px;top:4.90px">660</div>
<div class="t" style="left:435px;width:25px;top:4.90px">0</div>
<div class="t" style="left:460px;width:25px;top:4.90px">24</div>
<div class="t" style="left:485px;width:25px;top:4.90px">6</div>
<div class="t" style="left:510px;width:25px;top:4.90px">8</div>
<div class="t" style="left:535px;width:25px;top:4.90px">635</div>
<div class="t" style="left:560px;width:24px;top:4.90px">645</div>
<div class="t" style="left:584px;width:24px;top:4.90px">845</div>
<div class="t" style="left:608px;width:28px;top:4.90px">1248</div>
</div>
<div class="rw" style="top:441px;height:19px">
<div class="t" style="left:0px;width:42px;top:5.60px">315S</div>
<div class="t" style="left:42px;width:39px;top:5.60px">4<i>.</i>6<i>.</i>8</div>
<div class="t" style="left:81px;width:27px;top:5.60px">508</div>
<div class="t" style="left:108px;width:28px;top:5.60px">254</div>
<div class="t" style="left:136px;width:27px;top:5.60px">406</div>
<div class="t" style="left:163px;width:27px;top:5.60px">216</div>
<div class="t" style="left:190px;width:27px;top:5.60px">80</div>
<div class="t" style="left:217px;width:27px;top:5.60px">170</div>
<div class="t" style="left:244px;width:27px;top:5.60px">22</div>
<div class="t" style="left:271px;width:28px;top:5.60px">71</div>
<div class="t" style="left:299px;width:27px;top:5.60px">315</div>
<div class="t" style="left:326px;width:27px;top:5.60px">28</div>
<div class="t" style="left:353px;width:28px;top:5.60px">600</div>
<div class="t" style="left:381px;width:27px;top:5.60px">550</div>
<div class="t" style="left:408px;width:27px;top:5.60px">660</div>
<div class="t" style="left:435px;width:25px;top:5.60px">0</div>
<div class="t" style="left:460px;width:25px;top:5.60px">18<i>.</i>5</div>
<div class="t" style="left:485px;width:25px;top:5.60px">6</div>
<div class="t" style="left:510px;width:25px;top:5.60px">8</div>
<div class="t" style="left:535px;width:25px;top:5.60px">635</div>
<div class="t" style="left:560px;width:24px;top:5.60px">645</div>
<div class="t" style="left:584px;width:24px;top:5.60px">845</div>
<div class="t" style="left:608px;width:28px;top:5.60px">1278</div>
</div>
<div class="rw s" style="top:460px;height:18px">
<div class="t" style="left:0px;width:42px;top:5.30px">315M</div>
<div class="t" style="left:42px;width:39px;top:5.30px">2</div>
<div class="t" style="left:81px;width:27px;top:5.30px">508</div>
<div class="t" style="left:108px;width:28px;top:5.30px">254</div>
<div class="t" style="left:136px;width:27px;top:5.30px">457</div>
<div class="t" style="left:163px;width:27px;top:5.30px">216</div>
<div class="t" style="left:190px;width:27px;top:5.30px">65</div>
<div class="t" style="left:217px;width:27px;top:5.30px">140</div>
<div class="t" style="left:244px;width:27px;top:5.30px">18</div>
<div class="t" style="left:271px;width:28px;top:5.30px">58</div>
<div class="t" style="left:299px;width:27px;top:5.30px">315</div>
<div class="t" style="left:326px;width:27px;top:5.30px">28</div>
<div class="t" style="left:353px;width:28px;top:5.30px">600</div>
<div class="t" style="left:381px;width:27px;top:5.30px">550</div>
<div class="t" style="left:408px;width:27px;top:5.30px">660</div>
<div class="t" style="left:435px;width:25px;top:5.30px">0</div>
<div class="t" style="left:460px;width:25px;top:5.30px">24</div>
<div class="t" style="left:485px;width:25px;top:5.30px">6</div>
<div class="t" style="left:510px;width:25px;top:5.30px">8</div>
<div class="t" style="left:535px;width:25px;top:5.30px">635</div>
<div class="t" style="left:560px;width:24px;top:5.30px">645</div>
<div class="t" style="left:584px;width:24px;top:5.30px">845</div>
<div class="t" style="left:608px;width:28px;top:5.30px">1358</div>
</div>
<div class="rw" style="top:478px;height:19px">
<div class="t" style="left:0px;width:42px;top:6.10px">315M</div>
<div class="t" style="left:42px;width:39px;top:6.10px">4<i>.</i>6<i>.</i>8</div>
<div class="t" style="left:81px;width:27px;top:6.10px">508</div>
<div class="t" style="left:108px;width:28px;top:6.10px">254</div>
<div class="t" style="left:136px;width:27px;top:6.10px">457</div>
<div class="t" style="left:163px;width:27px;top:6.10px">216</div>
<div class="t" style="left:190px;width:27px;top:6.10px">80</div>
<div class="t" style="left:217px;width:27px;top:6.10px">170</div>
<div class="t" style="left:244px;width:27px;top:6.10px">22</div>
<div class="t" style="left:271px;width:28px;top:6.10px">71</div>
<div class="t" style="left:299px;width:27px;top:6.10px">315</div>
<div class="t" style="left:326px;width:27px;top:6.10px">28</div>
<div class="t" style="left:353px;width:28px;top:6.10px">600</div>
<div class="t" style="left:381px;width:27px;top:6.10px">550</div>
<div class="t" style="left:408px;width:27px;top:6.10px">660</div>
<div class="t" style="left:435px;width:25px;top:6.10px">0</div>
<div class="t" style="left:460px;width:25px;top:6.10px">24</div>
<div class="t" style="left:485px;width:25px;top:6.10px">6</div>
<div class="t" style="left:510px;width:25px;top:6.10px">8</div>
<div class="t" style="left:535px;width:25px;top:6.10px">635</div>
<div class="t" style="left:560px;width:24px;top:6.10px">645</div>
<div class="t" style="left:584px;width:24px;top:6.10px">845</div>
<div class="t" style="left:608px;width:28px;top:6.10px">1388</div>
</div>
<div class="rw s" style="top:497px;height:18px">
<div class="t" style="left:0px;width:42px;top:5.10px">315L</div>
<div class="t" style="left:42px;width:39px;top:5.10px">2</div>
<div class="t" style="left:81px;width:27px;top:5.10px">508</div>
<div class="t" style="left:108px;width:28px;top:5.10px">254</div>
<div class="t" style="left:136px;width:27px;top:5.10px">508</div>
<div class="t" style="left:163px;width:27px;top:5.10px">216</div>
<div class="t" style="left:190px;width:27px;top:5.10px">65</div>
<div class="t" style="left:217px;width:27px;top:5.10px">140</div>
<div class="t" style="left:244px;width:27px;top:5.10px">18</div>
<div class="t" style="left:271px;width:28px;top:5.10px">58</div>
<div class="t" style="left:299px;width:27px;top:5.10px">315</div>
<div class="t" style="left:326px;width:27px;top:5.10px">28</div>
<div class="t" style="left:353px;width:28px;top:5.10px">600</div>
<div class="t" style="left:381px;width:27px;top:5.10px">550</div>
<div class="t" style="left:408px;width:27px;top:5.10px">660</div>
<div class="t" style="left:435px;width:25px;top:5.10px">0</div>
<div class="t" style="left:460px;width:25px;top:5.10px">24</div>
<div class="t" style="left:485px;width:25px;top:5.10px">6</div>
<div class="t" style="left:510px;width:25px;top:5.10px">8</div>
<div class="t" style="left:535px;width:25px;top:5.10px">635</div>
<div class="t" style="left:560px;width:24px;top:5.10px">645</div>
<div class="t" style="left:584px;width:24px;top:5.10px">845</div>
<div class="t" style="left:608px;width:28px;top:5.10px">1358</div>
</div>
<div class="rw" style="top:515px;height:19px">
<div class="t" style="left:0px;width:42px;top:4.80px">315L</div>
<div class="t" style="left:42px;width:39px;top:4.80px">4<i>.</i>6<i>.</i>8</div>
<div class="t" style="left:81px;width:27px;top:4.80px">508</div>
<div class="t" style="left:108px;width:28px;top:4.80px">254</div>
<div class="t" style="left:136px;width:27px;top:4.80px">508</div>
<div class="t" style="left:163px;width:27px;top:4.80px">216</div>
<div class="t" style="left:190px;width:27px;top:4.80px">80</div>
<div class="t" style="left:217px;width:27px;top:4.80px">170</div>
<div class="t" style="left:244px;width:27px;top:4.80px">22</div>
<div class="t" style="left:271px;width:28px;top:4.80px">71</div>
<div class="t" style="left:299px;width:27px;top:4.80px">315</div>
<div class="t" style="left:326px;width:27px;top:4.80px">28</div>
<div class="t" style="left:353px;width:28px;top:4.80px">600</div>
<div class="t" style="left:381px;width:27px;top:4.80px">550</div>
<div class="t" style="left:408px;width:27px;top:4.80px">660</div>
<div class="t" style="left:435px;width:25px;top:4.80px">0</div>
<div class="t" style="left:460px;width:25px;top:4.80px">24</div>
<div class="t" style="left:485px;width:25px;top:4.80px">6</div>
<div class="t" style="left:510px;width:25px;top:4.80px">8</div>
<div class="t" style="left:535px;width:25px;top:4.80px">635</div>
<div class="t" style="left:560px;width:24px;top:4.80px">645</div>
<div class="t" style="left:584px;width:24px;top:4.80px">845</div>
<div class="t" style="left:608px;width:28px;top:4.80px">1388</div>
</div>
<div class="rw s" style="top:534px;height:18px">
<div class="t" style="left:0px;width:42px;top:4.80px">355M</div>
<div class="t" style="left:42px;width:39px;top:4.80px">2</div>
<div class="t" style="left:81px;width:27px;top:4.80px">610</div>
<div class="t" style="left:108px;width:28px;top:4.80px">305</div>
<div class="t" style="left:136px;width:27px;top:4.80px">560</div>
<div class="t" style="left:163px;width:27px;top:4.80px">254</div>
<div class="t" style="left:190px;width:27px;top:4.80px">75</div>
<div class="t" style="left:217px;width:27px;top:4.80px">140</div>
<div class="t" style="left:244px;width:27px;top:4.80px">20</div>
<div class="t" style="left:271px;width:28px;top:4.80px">67<i>.</i>5</div>
<div class="t" style="left:299px;width:27px;top:4.80px">355</div>
<div class="t" style="left:326px;width:27px;top:4.80px">28</div>
<div class="t" style="left:353px;width:28px;top:4.80px">740</div>
<div class="t" style="left:381px;width:27px;top:4.80px">680</div>
<div class="t" style="left:408px;width:27px;top:4.80px">800</div>
<div class="t" style="left:435px;width:25px;top:4.80px">0</div>
<div class="t" style="left:460px;width:25px;top:4.80px">24</div>
<div class="t" style="left:485px;width:25px;top:4.80px">6</div>
<div class="t" style="left:510px;width:25px;top:4.80px">8</div>
<div class="t" style="left:535px;width:25px;top:4.80px">730</div>
<div class="t" style="left:560px;width:24px;top:4.80px">710</div>
<div class="t" style="left:584px;width:24px;top:4.80px">1010</div>
<div class="t" style="left:608px;width:28px;top:4.80px">1564</div>
</div>
<div class="rw" style="top:552px;height:19px">
<div class="t" style="left:0px;width:42px;top:5.20px">355M</div>
<div class="t" style="left:42px;width:39px;top:5.20px">4<i>.</i>6<i>.</i>8</div>
<div class="t" style="left:81px;width:27px;top:5.20px">610</div>
<div class="t" style="left:108px;width:28px;top:5.20px">305</div>
<div class="t" style="left:136px;width:27px;top:5.20px">560</div>
<div class="t" style="left:163px;width:27px;top:5.20px">254</div>
<div class="t" style="left:190px;width:27px;top:5.20px">95</div>
<div class="t" style="left:217px;width:27px;top:5.20px">170</div>
<div class="t" style="left:244px;width:27px;top:5.20px">25</div>
<div class="t" style="left:271px;width:28px;top:5.20px">86</div>
<div class="t" style="left:299px;width:27px;top:5.20px">355</div>
<div class="t" style="left:326px;width:27px;top:5.20px">28</div>
<div class="t" style="left:353px;width:28px;top:5.20px">740</div>
<div class="t" style="left:381px;width:27px;top:5.20px">680</div>
<div class="t" style="left:408px;width:27px;top:5.20px">800</div>
<div class="t" style="left:435px;width:25px;top:5.20px">0</div>
<div class="t" style="left:460px;width:25px;top:5.20px">24</div>
<div class="t" style="left:485px;width:25px;top:5.20px">6</div>
<div class="t" style="left:510px;width:25px;top:5.20px">8</div>
<div class="t" style="left:535px;width:25px;top:5.20px">730</div>
<div class="t" style="left:560px;width:24px;top:5.20px">710</div>
<div class="t" style="left:584px;width:24px;top:5.20px">1010</div>
<div class="t" style="left:608px;width:28px;top:5.20px">1594</div>
</div>
<div class="rw s" style="top:571px;height:18px">
<div class="t" style="left:0px;width:42px;top:4.50px">355L</div>
<div class="t" style="left:42px;width:39px;top:4.50px">2</div>
<div class="t" style="left:81px;width:27px;top:4.50px">610</div>
<div class="t" style="left:108px;width:28px;top:4.50px">305</div>
<div class="t" style="left:136px;width:27px;top:4.50px">630</div>
<div class="t" style="left:163px;width:27px;top:4.50px">254</div>
<div class="t" style="left:190px;width:27px;top:4.50px">75</div>
<div class="t" style="left:217px;width:27px;top:4.50px">140</div>
<div class="t" style="left:244px;width:27px;top:4.50px">20</div>
<div class="t" style="left:271px;width:28px;top:4.50px">67<i>.</i>5</div>
<div class="t" style="left:299px;width:27px;top:4.50px">355</div>
<div class="t" style="left:326px;width:27px;top:4.50px">28</div>
<div class="t" style="left:353px;width:28px;top:4.50px">740</div>
<div class="t" style="left:381px;width:27px;top:4.50px">680</div>
<div class="t" style="left:408px;width:27px;top:4.50px">800</div>
<div class="t" style="left:435px;width:25px;top:4.50px">0</div>
<div class="t" style="left:460px;width:25px;top:4.50px">24</div>
<div class="t" style="left:485px;width:25px;top:4.50px">6</div>
<div class="t" style="left:510px;width:25px;top:4.50px">8</div>
<div class="t" style="left:535px;width:25px;top:4.50px">730</div>
<div class="t" style="left:560px;width:24px;top:4.50px">710</div>
<div class="t" style="left:584px;width:24px;top:4.50px">1010</div>
<div class="t" style="left:608px;width:28px;top:4.50px">1564</div>
</div>
<div class="rw" style="top:589px;height:19px">
<div class="t" style="left:0px;width:42px;top:4.90px">355L</div>
<div class="t" style="left:42px;width:39px;top:4.90px">4<i>.</i>6<i>.</i>8</div>
<div class="t" style="left:81px;width:27px;top:4.90px">610</div>
<div class="t" style="left:108px;width:28px;top:4.90px">305</div>
<div class="t" style="left:136px;width:27px;top:4.90px">630</div>
<div class="t" style="left:163px;width:27px;top:4.90px">254</div>
<div class="t" style="left:190px;width:27px;top:4.90px">95</div>
<div class="t" style="left:217px;width:27px;top:4.90px">170</div>
<div class="t" style="left:244px;width:27px;top:4.90px">25</div>
<div class="t" style="left:271px;width:28px;top:4.90px">86</div>
<div class="t" style="left:299px;width:27px;top:4.90px">355</div>
<div class="t" style="left:326px;width:27px;top:4.90px">28</div>
<div class="t" style="left:353px;width:28px;top:4.90px">740</div>
<div class="t" style="left:381px;width:27px;top:4.90px">680</div>
<div class="t" style="left:408px;width:27px;top:4.90px">800</div>
<div class="t" style="left:435px;width:25px;top:4.90px">0</div>
<div class="t" style="left:460px;width:25px;top:4.90px">24</div>
<div class="t" style="left:485px;width:25px;top:4.90px">6</div>
<div class="t" style="left:510px;width:25px;top:4.90px">8</div>
<div class="t" style="left:535px;width:25px;top:4.90px">730</div>
<div class="t" style="left:560px;width:24px;top:4.90px">710</div>
<div class="t" style="left:584px;width:24px;top:4.90px">1010</div>
<div class="t" style="left:608px;width:28px;top:4.90px">1594</div>
</div>
<div class="vl" style="left:0px;top:33px;height:574px"></div>
<div class="vl" style="left:42px;top:33px;height:574px"></div>
<div class="vl" style="left:81px;top:33px;height:574px"></div>
<div class="vl" style="left:108px;top:33px;height:574px"></div>
<div class="vl" style="left:136px;top:33px;height:574px"></div>
<div class="vl" style="left:163px;top:33px;height:574px"></div>
<div class="vl" style="left:190px;top:33px;height:574px"></div>
<div class="vl" style="left:217px;top:33px;height:574px"></div>
<div class="vl" style="left:244px;top:33px;height:574px"></div>
<div class="vl" style="left:271px;top:33px;height:574px"></div>
<div class="vl" style="left:299px;top:33px;height:574px"></div>
<div class="vl" style="left:326px;top:33px;height:574px"></div>
<div class="vl" style="left:353px;top:33px;height:574px"></div>
<div class="vl" style="left:381px;top:33px;height:574px"></div>
<div class="vl" style="left:408px;top:33px;height:574px"></div>
<div class="vl" style="left:435px;top:33px;height:574px"></div>
<div class="vl" style="left:460px;top:33px;height:574px"></div>
<div class="vl" style="left:485px;top:33px;height:574px"></div>
<div class="vl" style="left:510px;top:33px;height:574px"></div>
<div class="vl" style="left:535px;top:33px;height:574px"></div>
<div class="vl" style="left:560px;top:33px;height:574px"></div>
<div class="vl" style="left:584px;top:33px;height:574px"></div>
<div class="vl" style="left:608px;top:33px;height:574px"></div>
<div class="vl" style="left:635px;top:33px;height:574px"></div>
<div class="hl" style="top:52px"></div>
<div class="hl" style="top:71px"></div>
<div class="hl" style="top:89px"></div>
<div class="hl" style="top:108px"></div>
<div class="hl" style="top:126px"></div>
<div class="hl" style="top:145px"></div>
<div class="hl" style="top:163px"></div>
<div class="hl" style="top:182px"></div>
<div class="hl" style="top:200px"></div>
<div class="hl" style="top:219px"></div>
<div class="hl" style="top:237px"></div>
<div class="hl" style="top:256px"></div>
<div class="hl" style="top:274px"></div>
<div class="hl" style="top:293px"></div>
<div class="hl" style="top:311px"></div>
<div class="hl" style="top:330px"></div>
<div class="hl" style="top:349px"></div>
<div class="hl" style="top:367px"></div>
<div class="hl" style="top:386px"></div>
<div class="hl" style="top:404px"></div>
<div class="hl" style="top:423px"></div>
<div class="hl" style="top:441px"></div>
<div class="hl" style="top:460px"></div>
<div class="hl" style="top:478px"></div>
<div class="hl" style="top:497px"></div>
<div class="hl" style="top:515px"></div>
<div class="hl" style="top:534px"></div>
<div class="hl" style="top:552px"></div>
<div class="hl" style="top:571px"></div>
<div class="hl" style="top:589px"></div>
<div class="hl" style="top:607px"></div>
</div>
<div class="a" style="left:688px;top:975px;width:19px;height:13px;background:#13979f;color:#fff;font-size:8.5px;line-height:13px;text-align:center;letter-spacing:1.6px;text-indent:1.6px;padding-top:0.5px">16</div>
<div class="a" style="left:707px;top:975px;width:10px;height:13px;background:#aedde4"></div>
<svg class="a" style="left:0;top:0" width="750" height="300" viewBox="0 0 750 300"><defs><pattern id="hatch" width="2" height="2" patternUnits="userSpaceOnUse"><rect width="2" height="2" fill="#b9b0b0"/><rect width="1" height="1" fill="#6a5f5f"/></pattern></defs><line x1="83.0" y1="158.5" x2="174.2" y2="158.5" stroke="#1e1e1e" stroke-width="0.8"/>
<path d="M83.0,158.5 L86.4,157.1 L86.4,159.9Z" fill="#222"/>
<path d="M174.2,158.5 L170.8,159.9 L170.8,157.1Z" fill="#222"/>
<line x1="83.0" y1="158.5" x2="83.0" y2="202.8" stroke="#1e1e1e" stroke-width="1.05"/>
<line x1="174.2" y1="158.5" x2="174.2" y2="176.0" stroke="#1e1e1e" stroke-width="1.05"/>
<text x="128.6" y="156.5" font-family="'Liberation Serif',serif" font-size="7.5" text-anchor="middle" fill="#1a1a1a">L</text>
<line x1="66.9" y1="167.9" x2="99.8" y2="167.9" stroke="#1e1e1e" stroke-width="1.05"/>
<line x1="66.9" y1="231.5" x2="99.8" y2="231.5" stroke="#1e1e1e" stroke-width="1.05"/>
<line x1="68.4" y1="167.9" x2="68.4" y2="231.5" stroke="#1e1e1e" stroke-width="0.8"/>
<path d="M68.4,167.9 L69.9,171.3 L67.0,171.3Z" fill="#222"/>
<path d="M68.4,231.5 L67.0,228.1 L69.9,228.1Z" fill="#222"/>
<text x="66.8" y="201.0" font-family="'Liberation Serif',serif" font-size="8" text-anchor="middle" fill="#1a1a1a" transform="rotate(-90 66.8 201.0)">P</text>
<line x1="74.9" y1="179.5" x2="95.8" y2="179.5" stroke="#1e1e1e" stroke-width="1.05"/>
<line x1="74.9" y1="220.3" x2="95.8" y2="220.3" stroke="#1e1e1e" stroke-width="1.05"/>
<line x1="75.9" y1="179.5" x2="75.9" y2="220.3" stroke="#1e1e1e" stroke-width="0.8"/>
<path d="M75.9,179.5 L77.4,182.9 L74.5,182.9Z" fill="#222"/>
<path d="M75.9,220.3 L74.5,216.9 L77.4,216.9Z" fill="#222"/>
<text x="75.8" y="200.8" font-family="'Liberation Serif',serif" font-size="8.5" text-anchor="middle" fill="#1a1a1a" transform="rotate(-90 75.8 200.8)">N</text>
<rect x="95.8" y="167.9" width="2.4" height="80.6" fill="#c8c8c8"/>
<rect x="95.8" y="231.5" width="2.4" height="17.0" fill="#9a9a9a"/>
<line x1="95.8" y1="167.9" x2="95.8" y2="248.5" stroke="#1e1e1e" stroke-width="1.0"/>
<line x1="98.2" y1="167.9" x2="98.2" y2="248.5" stroke="#1e1e1e" stroke-width="1.0"/>
<path d="M98.2,167.9 L100.8,167.9 L107,177.3 L107,222.1 L100.8,231.5 L98.2,231.5" fill="none" stroke="#1e1e1e" stroke-width="0.8"/>
<line x1="101.3" y1="171.9" x2="101.3" y2="227.5" stroke="#1e1e1e" stroke-width="0.8"/>
<path d="M108.3,177.4 Q108.3,173.4 112.3,173.4 L167.2,173.4 Q174.2,173.4 174.2,180.4 L174.2,219.2 Q174.2,226.2 167.2,226.2 L112.3,226.2 Q108.3,226.2 108.3,222.2 Z" fill="none" stroke="#1e1e1e" stroke-width="0.9"/>
<line x1="167.2" y1="173.4" x2="186.0" y2="173.4" stroke="#1e1e1e" stroke-width="0.7"/>
<line x1="167.2" y1="226.2" x2="186.0" y2="226.2" stroke="#1e1e1e" stroke-width="0.7"/>
<line x1="183.5" y1="173.4" x2="183.5" y2="226.2" stroke="#1e1e1e" stroke-width="0.8"/>
<path d="M183.5,173.4 L184.9,176.8 L182.1,176.8Z" fill="#222"/>
<path d="M183.5,226.2 L182.1,222.8 L184.9,222.8Z" fill="#222"/>
<text x="182.6" y="200.0" font-family="'Liberation Serif',serif" font-size="7.5" text-anchor="middle" fill="#1a1a1a" transform="rotate(-90 182.6 200.0)">AC</text>
<path d="M112.3,173.4 L112.3,168.4 Q112.3,167.20000000000002 113.5,167.20000000000002 L119.5,167.20000000000002 Q120.7,167.20000000000002 120.7,168.4 L120.7,173.4" fill="none" stroke="#1e1e1e" stroke-width="0.8"/>
<line x1="130.0" y1="173.4" x2="130.0" y2="226.2" stroke="#1e1e1e" stroke-width="0.8"/>
<line x1="152.9" y1="173.4" x2="152.9" y2="226.2" stroke="#1e1e1e" stroke-width="0.8"/>
<line x1="83.0" y1="199.6" x2="174.2" y2="199.6" stroke="#1e1e1e" stroke-width="0.8"/>
<line x1="83.0" y1="196.8" x2="95.8" y2="196.8" stroke="#1e1e1e" stroke-width="0.8"/>
<line x1="83.0" y1="202.8" x2="95.8" y2="202.8" stroke="#1e1e1e" stroke-width="0.8"/>
<line x1="83.0" y1="186.4" x2="95.8" y2="186.4" stroke="#1e1e1e" stroke-width="0.7"/>
<path d="M83.0,186.4 L86.4,185.0 L86.4,187.8Z" fill="#222"/>
<path d="M95.8,186.4 L92.4,187.8 L92.4,185.0Z" fill="#222"/>
<text x="90.2" y="185.7" font-family="'Liberation Serif',serif" font-size="7.6" text-anchor="middle" fill="#1a1a1a">E</text>
<line x1="89.4" y1="191.5" x2="89.4" y2="194.0" stroke="#1e1e1e" stroke-width="1.0"/>
<line x1="89.4" y1="206.0" x2="89.4" y2="208.5" stroke="#1e1e1e" stroke-width="1.0"/>
<path d="M108.3,226.2 L108.3,227.7 Q108.3,229.0 110.3,229.0 L122.05000000000001,229.0 L124.05000000000001,227.79999999999998 L140.05,227.79999999999998 L142.05,229.0 L149.8,229.0 Q151.8,229.0 151.8,227.2" fill="none" stroke="#1e1e1e" stroke-width="0.8"/>
<line x1="114.0" y1="220.5" x2="114.0" y2="238.5" stroke="#1e1e1e" stroke-width="0.8"/>
<line x1="145.4" y1="220.5" x2="145.4" y2="238.5" stroke="#1e1e1e" stroke-width="0.8"/>
<line x1="86.0" y1="237.9" x2="145.4" y2="237.9" stroke="#1e1e1e" stroke-width="0.7"/>
<path d="M95.8,237.9 L92.4,239.3 L92.4,236.5Z" fill="#222"/>
<path d="M98.2,237.9 L101.6,236.5 L101.6,239.3Z" fill="#222"/>
<path d="M98.2,237.9 L95.8,239.3 L95.8,236.5Z" fill="#222"/>
<path d="M114.0,237.9 L117.4,236.5 L117.4,239.3Z" fill="#222"/>
<path d="M114.0,237.9 L110.6,239.3 L110.6,236.5Z" fill="#222"/>
<path d="M145.4,237.9 L142.0,239.3 L142.0,236.5Z" fill="#222"/>
<text x="84.5" y="240.5" font-family="'Liberation Serif',serif" font-size="8" text-anchor="middle" fill="#1a1a1a">T</text>
<text x="105.2" y="236.9" font-family="'Liberation Serif',serif" font-size="7.5" text-anchor="middle" fill="#1a1a1a">C</text>
<text x="131.0" y="236.9" font-family="'Liberation Serif',serif" font-size="7.5" text-anchor="middle" fill="#1a1a1a">B</text>
<line x1="86.0" y1="248.5" x2="108.0" y2="248.5" stroke="#1e1e1e" stroke-width="0.7"/>
<path d="M95.8,248.5 L92.4,249.9 L92.4,247.1Z" fill="#222"/>
<path d="M98.2,248.5 L101.6,247.1 L101.6,249.9Z" fill="#222"/>
<text x="90.0" y="246.9" font-family="'Liberation Serif',serif" font-size="7.5" text-anchor="middle" fill="#1a1a1a">R</text>
<text x="130.0" y="273.7" font-family="'Liberation Sans',sans-serif" font-size="8.4" text-anchor="middle" fill="#1a1a1a" fill-opacity="1" textLength="68" lengthAdjust="spacingAndGlyphs">FRAME SIZE 80–90</text>
<line x1="231.7" y1="158.5" x2="321.6" y2="158.5" stroke="#1e1e1e" stroke-width="0.8"/>
<path d="M231.7,158.5 L235.1,157.1 L235.1,159.9Z" fill="#222"/>
<path d="M321.6,158.5 L318.2,159.9 L318.2,157.1Z" fill="#222"/>
<line x1="231.7" y1="158.5" x2="231.7" y2="202.8" stroke="#1e1e1e" stroke-width="1.05"/>
<line x1="321.6" y1="158.5" x2="321.6" y2="176.0" stroke="#1e1e1e" stroke-width="1.05"/>
<text x="276.6" y="156.5" font-family="'Liberation Serif',serif" font-size="7.5" text-anchor="middle" fill="#1a1a1a">L</text>
<line x1="211.9" y1="167.9" x2="248.0" y2="167.9" stroke="#1e1e1e" stroke-width="1.05"/>
<line x1="211.9" y1="231.5" x2="248.0" y2="231.5" stroke="#1e1e1e" stroke-width="1.05"/>
<line x1="213.4" y1="167.9" x2="213.4" y2="231.5" stroke="#1e1e1e" stroke-width="0.8"/>
<path d="M213.4,167.9 L214.8,171.3 L212.0,171.3Z" fill="#222"/>
<path d="M213.4,231.5 L212.0,228.1 L214.8,228.1Z" fill="#222"/>
<text x="208.4" y="201.0" font-family="'Liberation Serif',serif" font-size="8" text-anchor="middle" fill="#1a1a1a" transform="rotate(-90 208.4 201.0)">P</text>
<line x1="221.8" y1="179.5" x2="244.0" y2="179.5" stroke="#1e1e1e" stroke-width="1.05"/>
<line x1="221.8" y1="220.3" x2="244.0" y2="220.3" stroke="#1e1e1e" stroke-width="1.05"/>
<line x1="222.8" y1="179.5" x2="222.8" y2="220.3" stroke="#1e1e1e" stroke-width="0.8"/>
<path d="M222.8,179.5 L224.2,182.9 L221.4,182.9Z" fill="#222"/>
<path d="M222.8,220.3 L221.4,216.9 L224.2,216.9Z" fill="#222"/>
<text x="221.2" y="200.8" font-family="'Liberation Serif',serif" font-size="8.5" text-anchor="middle" fill="#1a1a1a" transform="rotate(-90 221.2 200.8)">N</text>
<rect x="244" y="167.9" width="2.4" height="80.6" fill="#c8c8c8"/>
<rect x="244" y="231.5" width="2.4" height="17.0" fill="#9a9a9a"/>
<line x1="244.0" y1="167.9" x2="244.0" y2="248.5" stroke="#1e1e1e" stroke-width="1.0"/>
<line x1="246.4" y1="167.9" x2="246.4" y2="248.5" stroke="#1e1e1e" stroke-width="1.0"/>
<path d="M246.4,167.9 L249,167.9 L255.2,177.3 L255.2,222.1 L249,231.5 L246.4,231.5" fill="none" stroke="#1e1e1e" stroke-width="0.8"/>
<line x1="249.5" y1="171.9" x2="249.5" y2="227.5" stroke="#1e1e1e" stroke-width="0.8"/>
<path d="M255.7,177.4 Q255.7,173.4 259.7,173.4 L314.6,173.4 Q321.6,173.4 321.6,180.4 L321.6,219.2 Q321.6,226.2 314.6,226.2 L259.7,226.2 Q255.7,226.2 255.7,222.2 Z" fill="none" stroke="#1e1e1e" stroke-width="0.9"/>
<line x1="314.6" y1="173.4" x2="334.3" y2="173.4" stroke="#1e1e1e" stroke-width="0.7"/>
<line x1="314.6" y1="226.2" x2="334.3" y2="226.2" stroke="#1e1e1e" stroke-width="0.7"/>
<line x1="331.8" y1="173.4" x2="331.8" y2="226.2" stroke="#1e1e1e" stroke-width="0.8"/>
<path d="M331.8,173.4 L333.2,176.8 L330.4,176.8Z" fill="#222"/>
<path d="M331.8,226.2 L330.4,222.8 L333.2,222.8Z" fill="#222"/>
<text x="330.9" y="200.0" font-family="'Liberation Serif',serif" font-size="7.5" text-anchor="middle" fill="#1a1a1a" transform="rotate(-90 330.9 200.0)">AC</text>
<path d="M260.7,173.4 L260.7,168.4 Q260.7,167.20000000000002 261.9,167.20000000000002 L267.0,167.20000000000002 Q268.2,167.20000000000002 268.2,168.4 L268.2,173.4" fill="none" stroke="#1e1e1e" stroke-width="0.8"/>
<line x1="279.0" y1="163.4" x2="279.0" y2="226.2" stroke="#1e1e1e" stroke-width="0.8"/>
<line x1="300.3" y1="173.4" x2="300.3" y2="226.2" stroke="#1e1e1e" stroke-width="0.8"/>
<line x1="273.0" y1="169.0" x2="285.0" y2="169.0" stroke="#1e1e1e" stroke-width="0.7"/>
<path d="M276,173.4 L279,167.4 L282,173.4" fill="none" stroke="#1e1e1e" stroke-width="0.8"/>
<path d="M279.0,166.2 L277.8,164.0 L280.2,164.0Z" fill="#222"/>
<line x1="231.7" y1="199.6" x2="321.6" y2="199.6" stroke="#1e1e1e" stroke-width="0.8"/>
<line x1="231.7" y1="196.8" x2="244.0" y2="196.8" stroke="#1e1e1e" stroke-width="0.8"/>
<line x1="231.7" y1="202.8" x2="244.0" y2="202.8" stroke="#1e1e1e" stroke-width="0.8"/>
<line x1="231.7" y1="186.4" x2="244.0" y2="186.4" stroke="#1e1e1e" stroke-width="0.7"/>
<path d="M231.7,186.4 L235.1,185.0 L235.1,187.8Z" fill="#222"/>
<path d="M244.0,186.4 L240.6,187.8 L240.6,185.0Z" fill="#222"/>
<text x="237.8" y="185.7" font-family="'Liberation Serif',serif" font-size="7.6" text-anchor="middle" fill="#1a1a1a">E</text>
<line x1="237.8" y1="191.5" x2="237.8" y2="194.0" stroke="#1e1e1e" stroke-width="1.0"/>
<line x1="237.8" y1="206.0" x2="237.8" y2="208.5" stroke="#1e1e1e" stroke-width="1.0"/>
<path d="M256.5,226.2 L256.5,227.7 Q256.5,229.0 258.5,229.0 L269.85,229.0 L271.85,227.79999999999998 L287.85,227.79999999999998 L289.85,229.0 L297.2,229.0 Q299.2,229.0 299.2,227.2" fill="none" stroke="#1e1e1e" stroke-width="0.8"/>
<line x1="262.2" y1="220.5" x2="262.2" y2="238.5" stroke="#1e1e1e" stroke-width="0.8"/>
<line x1="294.0" y1="220.5" x2="294.0" y2="238.5" stroke="#1e1e1e" stroke-width="0.8"/>
<line x1="234.7" y1="237.9" x2="294.0" y2="237.9" stroke="#1e1e1e" stroke-width="0.7"/>
<path d="M244.0,237.9 L240.6,239.3 L240.6,236.5Z" fill="#222"/>
<path d="M246.4,237.9 L249.8,236.5 L249.8,239.3Z" fill="#222"/>
<path d="M246.4,237.9 L244.0,239.3 L244.0,236.5Z" fill="#222"/>
<path d="M262.2,237.9 L265.6,236.5 L265.6,239.3Z" fill="#222"/>
<path d="M262.2,237.9 L258.8,239.3 L258.8,236.5Z" fill="#222"/>
<path d="M294.0,237.9 L290.6,239.3 L290.6,236.5Z" fill="#222"/>
<text x="229.5" y="240.5" font-family="'Liberation Serif',serif" font-size="8" text-anchor="middle" fill="#1a1a1a">T</text>
<text x="255.1" y="236.9" font-family="'Liberation Serif',serif" font-size="7.5" text-anchor="middle" fill="#1a1a1a">C</text>
<text x="278.5" y="236.9" font-family="'Liberation Serif',serif" font-size="7.5" text-anchor="middle" fill="#1a1a1a">B</text>
<line x1="234.7" y1="248.5" x2="256.2" y2="248.5" stroke="#1e1e1e" stroke-width="0.7"/>
<path d="M244.0,248.5 L240.6,249.9 L240.6,247.1Z" fill="#222"/>
<path d="M246.4,248.5 L249.8,247.1 L249.8,249.9Z" fill="#222"/>
<text x="237.2" y="246.9" font-family="'Liberation Serif',serif" font-size="7.5" text-anchor="middle" fill="#1a1a1a">R</text>
<text x="277.3" y="273.7" font-family="'Liberation Sans',sans-serif" font-size="8.4" text-anchor="middle" fill="#1a1a1a" fill-opacity="1" textLength="76.5" lengthAdjust="spacingAndGlyphs">FRAME SIZE 100–132</text>
<line x1="378.4" y1="158.5" x2="470.3" y2="158.5" stroke="#1e1e1e" stroke-width="0.8"/>
<path d="M378.4,158.5 L381.8,157.1 L381.8,159.9Z" fill="#222"/>
<path d="M470.3,158.5 L466.9,159.9 L466.9,157.1Z" fill="#222"/>
<line x1="378.4" y1="158.5" x2="378.4" y2="202.8" stroke="#1e1e1e" stroke-width="1.05"/>
<line x1="470.3" y1="158.5" x2="470.3" y2="176.0" stroke="#1e1e1e" stroke-width="1.05"/>
<text x="424.4" y="156.5" font-family="'Liberation Serif',serif" font-size="7.5" text-anchor="middle" fill="#1a1a1a">L</text>
<line x1="360.7" y1="167.9" x2="395.7" y2="167.9" stroke="#1e1e1e" stroke-width="1.05"/>
<line x1="360.7" y1="231.5" x2="395.7" y2="231.5" stroke="#1e1e1e" stroke-width="1.05"/>
<line x1="362.2" y1="167.9" x2="362.2" y2="231.5" stroke="#1e1e1e" stroke-width="0.8"/>
<path d="M362.2,167.9 L363.6,171.3 L360.8,171.3Z" fill="#222"/>
<path d="M362.2,231.5 L360.8,228.1 L363.6,228.1Z" fill="#222"/>
<text x="359.5" y="201.0" font-family="'Liberation Serif',serif" font-size="8" text-anchor="middle" fill="#1a1a1a" transform="rotate(-90 359.5 201.0)">P</text>
<line x1="368.5" y1="179.5" x2="391.7" y2="179.5" stroke="#1e1e1e" stroke-width="1.05"/>
<line x1="368.5" y1="220.3" x2="391.7" y2="220.3" stroke="#1e1e1e" stroke-width="1.05"/>
<line x1="369.5" y1="179.5" x2="369.5" y2="220.3" stroke="#1e1e1e" stroke-width="0.8"/>
<path d="M369.5,179.5 L370.9,182.9 L368.1,182.9Z" fill="#222"/>
<path d="M369.5,220.3 L368.1,216.9 L370.9,216.9Z" fill="#222"/>
<text x="368.4" y="200.8" font-family="'Liberation Serif',serif" font-size="8.5" text-anchor="middle" fill="#1a1a1a" transform="rotate(-90 368.4 200.8)">N</text>
<rect x="391.7" y="167.9" width="2.4" height="80.6" fill="#c8c8c8"/>
<rect x="391.7" y="231.5" width="2.4" height="17.0" fill="#9a9a9a"/>
<line x1="391.7" y1="167.9" x2="391.7" y2="248.5" stroke="#1e1e1e" stroke-width="1.0"/>
<line x1="394.1" y1="167.9" x2="394.1" y2="248.5" stroke="#1e1e1e" stroke-width="1.0"/>
<path d="M394.09999999999997,167.9 L396.7,167.9 L402.9,177.3 L402.9,222.1 L396.7,231.5 L394.09999999999997,231.5" fill="none" stroke="#1e1e1e" stroke-width="0.8"/>
<line x1="397.2" y1="171.9" x2="397.2" y2="227.5" stroke="#1e1e1e" stroke-width="0.8"/>
<path d="M403.4,177.4 Q403.4,173.4 407.4,173.4 L463.3,173.4 Q470.3,173.4 470.3,180.4 L470.3,219.2 Q470.3,226.2 463.3,226.2 L407.4,226.2 Q403.4,226.2 403.4,222.2 Z" fill="none" stroke="#1e1e1e" stroke-width="0.9"/>
<line x1="463.3" y1="173.4" x2="481.5" y2="173.4" stroke="#1e1e1e" stroke-width="0.7"/>
<line x1="463.3" y1="226.2" x2="481.5" y2="226.2" stroke="#1e1e1e" stroke-width="0.7"/>
<line x1="479.0" y1="173.4" x2="479.0" y2="226.2" stroke="#1e1e1e" stroke-width="0.8"/>
<path d="M479.0,173.4 L480.4,176.8 L477.6,176.8Z" fill="#222"/>
<path d="M479.0,226.2 L477.6,222.8 L480.4,222.8Z" fill="#222"/>
<text x="478.1" y="200.0" font-family="'Liberation Serif',serif" font-size="7.5" text-anchor="middle" fill="#1a1a1a" transform="rotate(-90 478.1 200.0)">AC</text>
<path d="M407.9,173.4 L407.9,168.4 Q407.9,167.20000000000002 409.09999999999997,167.20000000000002 L415.0,167.20000000000002 Q416.2,167.20000000000002 416.2,168.4 L416.2,173.4" fill="none" stroke="#1e1e1e" stroke-width="0.8"/>
<line x1="425.7" y1="163.4" x2="425.7" y2="226.2" stroke="#1e1e1e" stroke-width="0.8"/>
<line x1="448.1" y1="173.4" x2="448.1" y2="226.2" stroke="#1e1e1e" stroke-width="0.8"/>
<line x1="419.7" y1="169.0" x2="431.7" y2="169.0" stroke="#1e1e1e" stroke-width="0.7"/>
<path d="M422.7,173.4 L425.7,167.4 L428.7,173.4" fill="none" stroke="#1e1e1e" stroke-width="0.8"/>
<path d="M425.7,166.2 L424.5,164.0 L426.9,164.0Z" fill="#222"/>
<line x1="378.4" y1="199.6" x2="470.3" y2="199.6" stroke="#1e1e1e" stroke-width="0.8"/>
<line x1="378.4" y1="196.8" x2="391.7" y2="196.8" stroke="#1e1e1e" stroke-width="0.8"/>
<line x1="378.4" y1="202.8" x2="391.7" y2="202.8" stroke="#1e1e1e" stroke-width="0.8"/>
<line x1="378.4" y1="186.4" x2="391.7" y2="186.4" stroke="#1e1e1e" stroke-width="0.7"/>
<path d="M378.4,186.4 L381.8,185.0 L381.8,187.8Z" fill="#222"/>
<path d="M391.7,186.4 L388.3,187.8 L388.3,185.0Z" fill="#222"/>
<text x="386.4" y="185.7" font-family="'Liberation Serif',serif" font-size="7.6" text-anchor="middle" fill="#1a1a1a">E</text>
<line x1="385.0" y1="191.5" x2="385.0" y2="194.0" stroke="#1e1e1e" stroke-width="1.0"/>
<line x1="385.0" y1="206.0" x2="385.0" y2="208.5" stroke="#1e1e1e" stroke-width="1.0"/>
<path d="M403.4,226.2 L403.4,227.7 Q403.4,229.0 405.4,229.0 L417.2,229.0 L419.2,227.79999999999998 L435.2,227.79999999999998 L437.2,229.0 L445,229.0 Q447,229.0 447,227.2" fill="none" stroke="#1e1e1e" stroke-width="0.8"/>
<line x1="409.6" y1="220.5" x2="409.6" y2="238.5" stroke="#1e1e1e" stroke-width="0.8"/>
<line x1="441.7" y1="220.5" x2="441.7" y2="238.5" stroke="#1e1e1e" stroke-width="0.8"/>
<line x1="381.4" y1="237.9" x2="441.7" y2="237.9" stroke="#1e1e1e" stroke-width="0.7"/>
<path d="M391.7,237.9 L388.3,239.3 L388.3,236.5Z" fill="#222"/>
<path d="M394.1,237.9 L397.5,236.5 L397.5,239.3Z" fill="#222"/>
<path d="M394.1,237.9 L391.7,239.3 L391.7,236.5Z" fill="#222"/>
<path d="M409.6,237.9 L413.0,236.5 L413.0,239.3Z" fill="#222"/>
<path d="M409.6,237.9 L406.2,239.3 L406.2,236.5Z" fill="#222"/>
<path d="M441.7,237.9 L438.3,239.3 L438.3,236.5Z" fill="#222"/>
<text x="377.5" y="240.5" font-family="'Liberation Serif',serif" font-size="8" text-anchor="middle" fill="#1a1a1a">T</text>
<text x="401.7" y="236.9" font-family="'Liberation Serif',serif" font-size="7.5" text-anchor="middle" fill="#1a1a1a">C</text>
<text x="426.0" y="236.9" font-family="'Liberation Serif',serif" font-size="7.5" text-anchor="middle" fill="#1a1a1a">B</text>
<line x1="381.4" y1="248.5" x2="403.9" y2="248.5" stroke="#1e1e1e" stroke-width="0.7"/>
<path d="M391.7,248.5 L388.3,249.9 L388.3,247.1Z" fill="#222"/>
<path d="M394.1,248.5 L397.5,247.1 L397.5,249.9Z" fill="#222"/>
<text x="384.2" y="246.9" font-family="'Liberation Serif',serif" font-size="7.5" text-anchor="middle" fill="#1a1a1a">R</text>
<text x="430.0" y="273.7" font-family="'Liberation Sans',sans-serif" font-size="8.4" text-anchor="middle" fill="#1a1a1a" fill-opacity="1" textLength="76.8" lengthAdjust="spacingAndGlyphs">FRAME SIZE 160–355</text>
<circle cx="504.3" cy="167.3" r="8.3" fill="url(#hatch)" stroke="#1e1e1e" stroke-width="1.1"/>
<line x1="495.0" y1="167.3" x2="513.6" y2="167.3" stroke="#1e1e1e" stroke-width="0.7"/>
<line x1="504.3" y1="159.0" x2="504.3" y2="175.6" stroke="#1e1e1e" stroke-width="0.7"/>
<line x1="502.3" y1="150.3" x2="502.3" y2="159.5" stroke="#1e1e1e" stroke-width="0.8"/>
<line x1="506.3" y1="150.3" x2="506.3" y2="159.5" stroke="#1e1e1e" stroke-width="0.8"/>
<line x1="493.3" y1="150.3" x2="516.7" y2="150.3" stroke="#1e1e1e" stroke-width="0.7"/>
<path d="M502.3,150.3 L500.1,151.8 L500.1,148.9Z" fill="#222"/>
<path d="M506.3,150.3 L508.5,148.9 L508.5,151.8Z" fill="#222"/>
<text x="504.6" y="146.3" font-family="'Liberation Serif',serif" font-size="7.8" text-anchor="middle" fill="#1a1a1a">F</text>
<line x1="506.0" y1="161.3" x2="523.0" y2="161.3" stroke="#1e1e1e" stroke-width="0.7"/>
<line x1="506.0" y1="175.3" x2="523.0" y2="175.3" stroke="#1e1e1e" stroke-width="0.7"/>
<line x1="521.7" y1="161.3" x2="521.7" y2="175.3" stroke="#1e1e1e" stroke-width="0.7"/>
<path d="M521.7,161.3 L523.2,164.7 L520.2,164.7Z" fill="#222"/>
<path d="M521.7,175.3 L520.2,171.9 L523.2,171.9Z" fill="#222"/>
<text x="520.3" y="168.3" font-family="'Liberation Serif',serif" font-size="7.8" text-anchor="middle" fill="#1a1a1a" transform="rotate(-90 520.3 168.3)">G</text>
<line x1="496.3" y1="167.3" x2="496.3" y2="185.0" stroke="#1e1e1e" stroke-width="0.8"/>
<line x1="513.0" y1="167.3" x2="513.0" y2="185.0" stroke="#1e1e1e" stroke-width="0.8"/>
<line x1="496.3" y1="184.3" x2="513.0" y2="184.3" stroke="#1e1e1e" stroke-width="0.7"/>
<path d="M496.3,184.3 L499.7,182.9 L499.7,185.8Z" fill="#222"/>
<path d="M513.0,184.3 L509.6,185.8 L509.6,182.9Z" fill="#222"/>
<text x="504.8" y="183.2" font-family="'Liberation Serif',serif" font-size="7.8" text-anchor="middle" fill="#1a1a1a">D</text>
<path d="M548.7,222 L551.6999999999999,212.82000000000002" fill="none" stroke="#1e1e1e" stroke-width="0.8"/>
<path d="M597.7,222 L595.9,212.82000000000002" fill="none" stroke="#1e1e1e" stroke-width="0.8"/>
<rect x="547.7" y="222.0" width="10.7" height="3.4" rx="0" fill="#fff" stroke="#1e1e1e" stroke-width="0.8"/>
<rect x="588.5" y="222.0" width="10.2" height="3.4" rx="0" fill="#fff" stroke="#1e1e1e" stroke-width="0.8"/>
<line x1="549.7" y1="223.7" x2="556.4" y2="223.7" stroke="#1e1e1e" stroke-width="0.5"/>
<line x1="590.5" y1="223.7" x2="596.7" y2="223.7" stroke="#1e1e1e" stroke-width="0.5"/>
<circle cx="573.8" cy="199.3" r="26" fill="#fff" stroke="#1e1e1e" stroke-width="1.1"/>
<circle cx="573.8" cy="199.3" r="23.7" fill="none" stroke="#1e1e1e" stroke-width="0.7"/>
<circle cx="573.8" cy="199.3" r="21.7" fill="none" stroke="#1e1e1e" stroke-width="0.6"/>
<circle cx="573.8" cy="199.3" r="19.8" fill="none" stroke="#222" stroke-width="1.6"/>
<circle cx="573.8" cy="199.3" r="8.8" fill="none" stroke="#1e1e1e" stroke-width="0.7"/>
<circle cx="573.8" cy="199.3" r="5" fill="none" stroke="#1e1e1e" stroke-width="0.8"/>
<circle cx="573.8" cy="199.3" r="3.4" fill="none" stroke="#1e1e1e" stroke-width="0.8"/>
<circle cx="573.8" cy="199.3" r="2" fill="none" stroke="#1e1e1e" stroke-width="0.7"/>
<circle cx="588.2" cy="184.9" r="1.3" fill="#333"/>
<circle cx="559.4" cy="184.9" r="1.3" fill="#333"/>
<circle cx="559.4" cy="213.7" r="1.3" fill="#333"/>
<circle cx="588.2" cy="213.7" r="1.3" fill="#333"/>
<line x1="540.3" y1="199.3" x2="606.0" y2="199.3" stroke="#1e1e1e" stroke-width="0.8"/>
<line x1="573.8" y1="159.3" x2="573.8" y2="236.5" stroke="#1e1e1e" stroke-width="0.8"/>
<rect x="569.8" y="167.2" width="8.0" height="6.0" rx="0" fill="#fff" stroke="#1e1e1e" stroke-width="0.8"/>
<line x1="572.2" y1="167.2" x2="572.2" y2="173.2" stroke="#1e1e1e" stroke-width="0.6"/>
<line x1="575.4" y1="167.2" x2="575.4" y2="173.2" stroke="#1e1e1e" stroke-width="0.6"/>
<line x1="531.4" y1="167.2" x2="569.8" y2="167.2" stroke="#1e1e1e" stroke-width="0.7"/>
<line x1="531.4" y1="225.4" x2="547.7" y2="225.4" stroke="#1e1e1e" stroke-width="0.7"/>
<line x1="532.4" y1="167.2" x2="532.4" y2="225.4" stroke="#1e1e1e" stroke-width="0.8"/>
<path d="M532.4,167.2 L533.9,170.6 L530.9,170.6Z" fill="#222"/>
<path d="M532.4,225.4 L530.9,222.0 L533.9,222.0Z" fill="#222"/>
<line x1="540.4" y1="199.3" x2="573.8" y2="199.3" stroke="#1e1e1e" stroke-width="0.1"/>
<line x1="541.4" y1="199.3" x2="541.4" y2="225.4" stroke="#1e1e1e" stroke-width="0.8"/>
<path d="M541.4,199.3 L542.9,202.7 L539.9,202.7Z" fill="#222"/>
<path d="M541.4,225.4 L539.9,222.0 L542.9,222.0Z" fill="#222"/>
<text x="530.2" y="195.7" font-family="'Liberation Serif',serif" font-size="8" text-anchor="middle" fill="#1a1a1a" transform="rotate(-90 530.2 195.7)">HD</text>
<text x="539.6" y="213.2" font-family="'Liberation Serif',serif" font-size="8" text-anchor="middle" fill="#1a1a1a" transform="rotate(-90 539.6 213.2)">H</text>
<line x1="553.9" y1="225.4" x2="553.9" y2="243.5" stroke="#1e1e1e" stroke-width="0.7"/>
<line x1="593.6" y1="225.4" x2="593.6" y2="243.5" stroke="#1e1e1e" stroke-width="0.7"/>
<line x1="547.7" y1="225.4" x2="547.7" y2="249.0" stroke="#1e1e1e" stroke-width="0.7"/>
<line x1="598.7" y1="225.4" x2="598.7" y2="249.0" stroke="#1e1e1e" stroke-width="0.7"/>
<line x1="553.9" y1="236.2" x2="573.8" y2="236.2" stroke="#1e1e1e" stroke-width="0.7"/>
<path d="M553.9,236.2 L557.3,234.8 L557.3,237.6Z" fill="#222"/>
<path d="M573.8,236.2 L570.4,237.6 L570.4,234.8Z" fill="#222"/>
<line x1="553.9" y1="242.4" x2="593.6" y2="242.4" stroke="#1e1e1e" stroke-width="0.7"/>
<path d="M553.9,242.4 L557.3,241.0 L557.3,243.8Z" fill="#222"/>
<path d="M593.6,242.4 L590.2,243.8 L590.2,241.0Z" fill="#222"/>
<line x1="547.7" y1="248.0" x2="598.7" y2="248.0" stroke="#1e1e1e" stroke-width="0.7"/>
<path d="M547.7,248.0 L551.1,246.6 L551.1,249.4Z" fill="#222"/>
<path d="M598.7,248.0 L595.3,249.4 L595.3,246.6Z" fill="#222"/>
<text x="563.8" y="235.0" font-family="'Liberation Serif',serif" font-size="8" text-anchor="middle" fill="#1a1a1a">A/2</text>
<text x="575.3" y="241.3" font-family="'Liberation Serif',serif" font-size="8" text-anchor="middle" fill="#1a1a1a">A</text>
<text x="575.3" y="247.0" font-family="'Liberation Serif',serif" font-size="8" text-anchor="middle" fill="#1a1a1a">AB</text>
<line x1="591.3" y1="225.4" x2="591.3" y2="237.0" stroke="#1e1e1e" stroke-width="0.9"/>
<line x1="593.7" y1="225.4" x2="593.7" y2="237.0" stroke="#1e1e1e" stroke-width="0.9"/>
<rect x="591.3" y="225.4" width="2.4" height="11.6" rx="0" fill="#888" stroke="#1e1e1e" stroke-width="0"/>
<line x1="583.5" y1="236.2" x2="605.7" y2="236.2" stroke="#1e1e1e" stroke-width="0.7"/>
<path d="M591.3,236.2 L589.1,237.6 L589.1,234.8Z" fill="#222"/>
<path d="M593.7,236.2 L595.9,234.8 L595.9,237.6Z" fill="#222"/>
<text x="588.0" y="234.8" font-family="'Liberation Serif',serif" font-size="8" text-anchor="middle" fill="#1a1a1a">K</text>
<line x1="556.7" y1="209.2" x2="590.9" y2="189.4" stroke="#1e1e1e" stroke-width="0.7"/>
<text x="582.3" y="190.8" font-family="'Liberation Serif',serif" font-size="8" text-anchor="middle" fill="#1a1a1a" transform="rotate(-25 582.3 190.8)">M</text>
<line x1="573.8" y1="159.3" x2="560.0" y2="159.5" stroke="#1e1e1e" stroke-width="0.7"/>
<line x1="546.5" y1="169.8" x2="573.8" y2="199.3" stroke="#1e1e1e" stroke-width="0.7"/>
<line x1="589.6" y1="183.5" x2="596.0" y2="177.0" stroke="#1e1e1e" stroke-width="0.7"/>
<line x1="589.6" y1="167.6" x2="606.6" y2="182.9" stroke="#1e1e1e" stroke-width="0.7"/>
<text x="561.0" y="164.5" font-family="'Liberation Serif',serif" font-size="8" text-anchor="middle" fill="#1a1a1a" transform="rotate(-22 561.0 164.5)">45°</text>
<line x1="596.0" y1="177.0" x2="600.0" y2="173.0" stroke="#1e1e1e" stroke-width="0.7"/>
<text x="601.5" y="172.5" font-family="'Liberation Serif',serif" font-size="8" text-anchor="middle" fill="#1a1a1a" transform="rotate(-50 601.5 172.5)">S</text>
<text x="568.5" y="273.9" font-family="'Liberation Sans',sans-serif" font-size="8.4" text-anchor="middle" fill="#1a1a1a" textLength="72" lengthAdjust="spacingAndGlyphs">FRAME SIZE 80–200</text>
<path d="M649.2,220.9 L651.8599999999999,213.02800000000002" fill="none" stroke="#1e1e1e" stroke-width="0.8"/>
<path d="M700,220.9 L696.74,213.02800000000002" fill="none" stroke="#1e1e1e" stroke-width="0.8"/>
<rect x="648.2" y="220.9" width="11.9" height="4.5" rx="0" fill="#fff" stroke="#1e1e1e" stroke-width="0.8"/>
<rect x="689.6" y="220.9" width="11.4" height="4.5" rx="0" fill="#fff" stroke="#1e1e1e" stroke-width="0.8"/>
<line x1="650.2" y1="223.2" x2="658.1" y2="223.2" stroke="#1e1e1e" stroke-width="0.5"/>
<line x1="691.6" y1="223.2" x2="699.0" y2="223.2" stroke="#1e1e1e" stroke-width="0.5"/>
<circle cx="674.3" cy="199.3" r="26.4" fill="#fff" stroke="#1e1e1e" stroke-width="1.1"/>
<circle cx="674.3" cy="199.3" r="24.099999999999998" fill="none" stroke="#1e1e1e" stroke-width="0.7"/>
<circle cx="674.3" cy="199.3" r="22.099999999999998" fill="none" stroke="#1e1e1e" stroke-width="0.6"/>
<circle cx="674.3" cy="199.3" r="20.4" fill="none" stroke="#222" stroke-width="1.6"/>
<circle cx="674.3" cy="199.3" r="8.8" fill="none" stroke="#1e1e1e" stroke-width="0.7"/>
<circle cx="674.3" cy="199.3" r="5" fill="none" stroke="#1e1e1e" stroke-width="0.8"/>
<circle cx="674.3" cy="199.3" r="3.4" fill="none" stroke="#1e1e1e" stroke-width="0.8"/>
<circle cx="674.3" cy="199.3" r="2" fill="none" stroke="#1e1e1e" stroke-width="0.7"/>
<circle cx="693.7" cy="191.3" r="1.3" fill="#333"/>
<circle cx="654.9" cy="191.3" r="1.3" fill="#333"/>
<circle cx="654.9" cy="207.3" r="1.3" fill="#333"/>
<circle cx="693.7" cy="207.3" r="1.3" fill="#333"/>
<line x1="642.0" y1="199.3" x2="707.8" y2="199.3" stroke="#1e1e1e" stroke-width="0.8"/>
<line x1="674.3" y1="159.3" x2="674.3" y2="236.5" stroke="#1e1e1e" stroke-width="0.8"/>
<rect x="670.3" y="167.2" width="8.0" height="6.0" rx="0" fill="#fff" stroke="#1e1e1e" stroke-width="0.8"/>
<line x1="672.7" y1="167.2" x2="672.7" y2="173.2" stroke="#1e1e1e" stroke-width="0.6"/>
<line x1="675.9" y1="167.2" x2="675.9" y2="173.2" stroke="#1e1e1e" stroke-width="0.6"/>
<line x1="632.0" y1="167.2" x2="670.3" y2="167.2" stroke="#1e1e1e" stroke-width="0.7"/>
<line x1="632.0" y1="225.4" x2="648.2" y2="225.4" stroke="#1e1e1e" stroke-width="0.7"/>
<line x1="633.0" y1="167.2" x2="633.0" y2="225.4" stroke="#1e1e1e" stroke-width="0.8"/>
<path d="M633.0,167.2 L634.5,170.6 L631.5,170.6Z" fill="#222"/>
<path d="M633.0,225.4 L631.5,222.0 L634.5,222.0Z" fill="#222"/>
<line x1="641.6" y1="199.3" x2="674.3" y2="199.3" stroke="#1e1e1e" stroke-width="0.1"/>
<line x1="642.6" y1="199.3" x2="642.6" y2="225.4" stroke="#1e1e1e" stroke-width="0.8"/>
<path d="M642.6,199.3 L644.1,202.7 L641.1,202.7Z" fill="#222"/>
<path d="M642.6,225.4 L641.1,222.0 L644.1,222.0Z" fill="#222"/>
<text x="630.8" y="195.7" font-family="'Liberation Serif',serif" font-size="8" text-anchor="middle" fill="#1a1a1a" transform="rotate(-90 630.8 195.7)">HD</text>
<text x="640.8" y="211.8" font-family="'Liberation Serif',serif" font-size="8" text-anchor="middle" fill="#1a1a1a" transform="rotate(-90 640.8 211.8)">H</text>
<line x1="655.6" y1="225.4" x2="655.6" y2="243.5" stroke="#1e1e1e" stroke-width="0.7"/>
<line x1="694.7" y1="225.4" x2="694.7" y2="243.5" stroke="#1e1e1e" stroke-width="0.7"/>
<line x1="648.2" y1="225.4" x2="648.2" y2="249.0" stroke="#1e1e1e" stroke-width="0.7"/>
<line x1="701.0" y1="225.4" x2="701.0" y2="249.0" stroke="#1e1e1e" stroke-width="0.7"/>
<line x1="655.6" y1="236.2" x2="674.3" y2="236.2" stroke="#1e1e1e" stroke-width="0.7"/>
<path d="M655.6,236.2 L659.0,234.8 L659.0,237.6Z" fill="#222"/>
<path d="M674.3,236.2 L670.9,237.6 L670.9,234.8Z" fill="#222"/>
<line x1="655.6" y1="242.4" x2="694.7" y2="242.4" stroke="#1e1e1e" stroke-width="0.7"/>
<path d="M655.6,242.4 L659.0,241.0 L659.0,243.8Z" fill="#222"/>
<path d="M694.7,242.4 L691.3,243.8 L691.3,241.0Z" fill="#222"/>
<line x1="648.2" y1="248.0" x2="701.0" y2="248.0" stroke="#1e1e1e" stroke-width="0.7"/>
<path d="M648.2,248.0 L651.6,246.6 L651.6,249.4Z" fill="#222"/>
<path d="M701.0,248.0 L697.6,249.4 L697.6,246.6Z" fill="#222"/>
<text x="665.0" y="235.0" font-family="'Liberation Serif',serif" font-size="8" text-anchor="middle" fill="#1a1a1a">A/2</text>
<text x="675.8" y="241.3" font-family="'Liberation Serif',serif" font-size="8" text-anchor="middle" fill="#1a1a1a">A</text>
<text x="675.8" y="247.0" font-family="'Liberation Serif',serif" font-size="8" text-anchor="middle" fill="#1a1a1a">AB</text>
<line x1="691.8" y1="225.4" x2="691.8" y2="237.0" stroke="#1e1e1e" stroke-width="0.9"/>
<line x1="694.2" y1="225.4" x2="694.2" y2="237.0" stroke="#1e1e1e" stroke-width="0.9"/>
<rect x="691.8" y="225.4" width="2.4" height="11.6" rx="0" fill="#888" stroke="#1e1e1e" stroke-width="0"/>
<line x1="684.0" y1="236.2" x2="708.0" y2="236.2" stroke="#1e1e1e" stroke-width="0.7"/>
<path d="M691.8,236.2 L689.6,237.6 L689.6,234.8Z" fill="#222"/>
<path d="M694.2,236.2 L696.4,234.8 L696.4,237.6Z" fill="#222"/>
<text x="688.5" y="234.8" font-family="'Liberation Serif',serif" font-size="8" text-anchor="middle" fill="#1a1a1a">K</text>
<line x1="655.8" y1="207.9" x2="692.8" y2="190.7" stroke="#1e1e1e" stroke-width="0.7"/>
<text x="682.8" y="190.8" font-family="'Liberation Serif',serif" font-size="8" text-anchor="middle" fill="#1a1a1a" transform="rotate(-25 682.8 190.8)">M</text>
<line x1="674.3" y1="159.6" x2="661.0" y2="161.5" stroke="#1e1e1e" stroke-width="0.7"/>
<line x1="660.5" y1="162.5" x2="674.3" y2="199.3" stroke="#1e1e1e" stroke-width="0.7"/>
<line x1="684.0" y1="177.0" x2="690.0" y2="165.0" stroke="#1e1e1e" stroke-width="0.7"/>
<line x1="678.0" y1="165.0" x2="698.0" y2="175.0" stroke="#1e1e1e" stroke-width="0.7"/>
<text x="665.0" y="162.5" font-family="'Liberation Serif',serif" font-size="8" text-anchor="middle" fill="#1a1a1a" transform="rotate(-28 665.0 162.5)">22.5°</text>
<line x1="689.0" y1="166.0" x2="692.0" y2="164.0" stroke="#1e1e1e" stroke-width="0.7"/>
<text x="692.0" y="166.0" font-family="'Liberation Serif',serif" font-size="8" text-anchor="middle" fill="#1a1a1a" transform="rotate(-50 692.0 166.0)">S</text>
<text x="675.0" y="273.9" font-family="'Liberation Sans',sans-serif" font-size="8.4" text-anchor="middle" fill="#1a1a1a" textLength="75.5" lengthAdjust="spacingAndGlyphs">FRAME SIZE 225–355</text></svg>
</body></html>
